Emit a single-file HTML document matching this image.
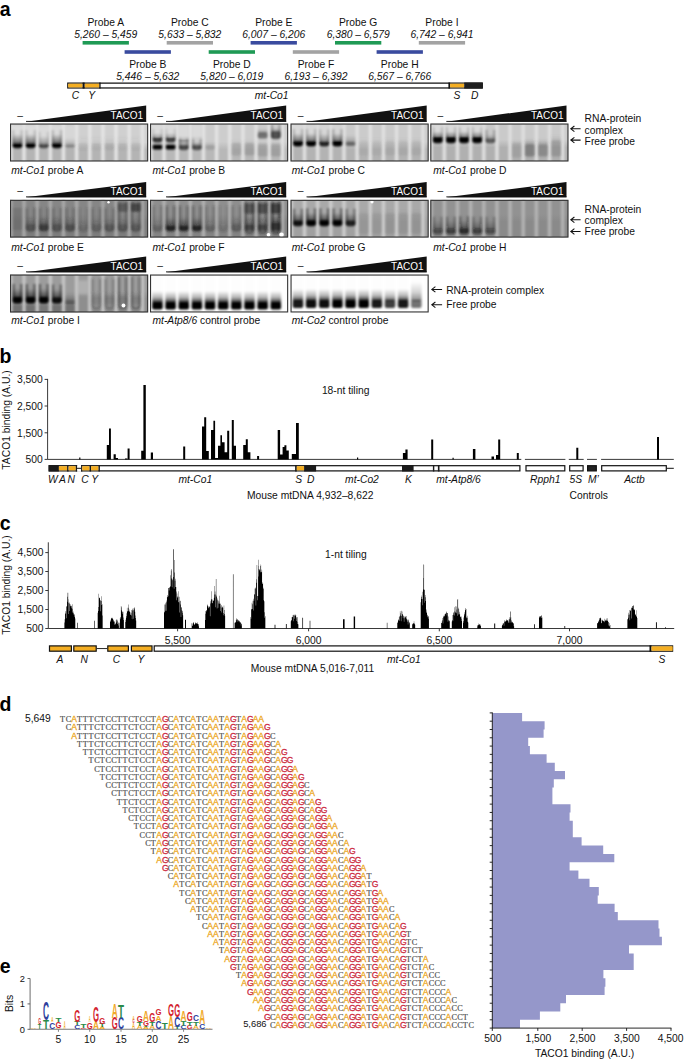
<!DOCTYPE html>
<html><head><meta charset="utf-8"><title>Figure</title>
<style>
html,body{margin:0;padding:0;background:#fff;}
svg{display:block;font-family:"Liberation Sans",sans-serif;}
.sa{fill:#eca824;stroke:#eca824;stroke-width:0.3px;font-family:"Liberation Sans",sans-serif;font-size:8.6px;}
.sg{fill:#cc2b42;stroke:#cc2b42;stroke-width:0.3px;font-family:"Liberation Sans",sans-serif;font-size:8.6px;}
.sc{fill:#525252;stroke:#525252;stroke-width:0.2px;font-family:"Liberation Serif",serif;font-size:8.2px;}
</style></head><body>
<svg width="685" height="1060" viewBox="0 0 685 1060">
<defs>
<filter id="blur1" x="-10%" y="-10%" width="120%" height="120%"><feGaussianBlur stdDeviation="0.9"/></filter>
<filter id="blur2" x="-30%" y="-30%" width="160%" height="160%"><feGaussianBlur stdDeviation="1.1"/></filter>
<filter id="blur05" x="-50%" y="-50%" width="200%" height="200%"><feGaussianBlur stdDeviation="0.5"/></filter>
</defs>
<rect width="685" height="1060" fill="#fff"/>
<text x="-0.3" y="16.4" font-size="19.5" text-anchor="start" fill="#000" font-weight="bold">a</text>
<rect x="82.6" y="41" width="46.3" height="3.6" fill="#1f9a55"/>
<text x="105.75" y="25.6" font-size="10.3" text-anchor="middle" fill="#111">Probe A</text>
<text x="105.75" y="37.7" font-size="10.3" text-anchor="middle" fill="#111" font-style="italic">5,260 – 5,459</text>
<rect x="124.6" y="50.2" width="46.3" height="3.6" fill="#3a4b9f"/>
<text x="147.75" y="67.5" font-size="10.3" text-anchor="middle" fill="#111">Probe B</text>
<text x="147.75" y="80" font-size="10.3" text-anchor="middle" fill="#111" font-style="italic">5,446 – 5,632</text>
<rect x="166.7" y="41" width="46.3" height="3.6" fill="#a3a3a3"/>
<text x="189.85" y="25.6" font-size="10.3" text-anchor="middle" fill="#111">Probe C</text>
<text x="189.85" y="37.7" font-size="10.3" text-anchor="middle" fill="#111" font-style="italic">5,633 – 5,832</text>
<rect x="208.7" y="50.2" width="46.3" height="3.6" fill="#1f9a55"/>
<text x="231.85" y="67.5" font-size="10.3" text-anchor="middle" fill="#111">Probe D</text>
<text x="231.85" y="80" font-size="10.3" text-anchor="middle" fill="#111" font-style="italic">5,820 – 6,019</text>
<rect x="250.6" y="41" width="46.3" height="3.6" fill="#3a4b9f"/>
<text x="273.75" y="25.6" font-size="10.3" text-anchor="middle" fill="#111">Probe E</text>
<text x="273.75" y="37.7" font-size="10.3" text-anchor="middle" fill="#111" font-style="italic">6,007 – 6,206</text>
<rect x="292.8" y="50.2" width="46.3" height="3.6" fill="#a3a3a3"/>
<text x="315.95" y="67.5" font-size="10.3" text-anchor="middle" fill="#111">Probe F</text>
<text x="315.95" y="80" font-size="10.3" text-anchor="middle" fill="#111" font-style="italic">6,193 – 6,392</text>
<rect x="335" y="41" width="46.3" height="3.6" fill="#1f9a55"/>
<text x="358.15" y="25.6" font-size="10.3" text-anchor="middle" fill="#111">Probe G</text>
<text x="358.15" y="37.7" font-size="10.3" text-anchor="middle" fill="#111" font-style="italic">6,380 – 6,579</text>
<rect x="376.6" y="50.2" width="46.3" height="3.6" fill="#3a4b9f"/>
<text x="399.75" y="67.5" font-size="10.3" text-anchor="middle" fill="#111">Probe H</text>
<text x="399.75" y="80" font-size="10.3" text-anchor="middle" fill="#111" font-style="italic">6,567 – 6,766</text>
<rect x="418.8" y="41" width="46.3" height="3.6" fill="#a3a3a3"/>
<text x="441.95" y="25.6" font-size="10.3" text-anchor="middle" fill="#111">Probe I</text>
<text x="441.95" y="37.7" font-size="10.3" text-anchor="middle" fill="#111" font-style="italic">6,742 – 6,941</text>
<rect x="67.8" y="83.12" width="414.5" height="4.85" fill="#fff" stroke="#111" stroke-width="1.25"/>
<rect x="68.2" y="83.7" width="14.4" height="3.7" fill="#f4ae22"/>
<rect x="84.6" y="83.7" width="14.7" height="3.7" fill="#f4ae22"/>
<rect x="99.3" y="82.5" width="1.3" height="6.1" fill="#111"/>
<rect x="82.6" y="82.5" width="2" height="6.1" fill="#111"/>
<rect x="448.4" y="82.5" width="1.7" height="6.1" fill="#111"/>
<rect x="450.1" y="83.7" width="14.1" height="3.7" fill="#f4ae22"/>
<rect x="464.2" y="82.5" width="18.4" height="6.1" fill="#1e1e1e"/>
<text x="75.5" y="98.8" font-size="10.3" text-anchor="middle" fill="#111" font-style="italic">C</text>
<text x="91.8" y="98.8" font-size="10.3" text-anchor="middle" fill="#111" font-style="italic">Y</text>
<text x="254.8" y="98.8" font-size="10.3" text-anchor="start" fill="#111" font-style="italic">mt-Co1</text>
<text x="453.6" y="98.8" font-size="10.3" text-anchor="start" fill="#111" font-style="italic">S</text>
<text x="471" y="98.8" font-size="10.3" text-anchor="start" fill="#111" font-style="italic">D</text>
<linearGradient id="smear_111" x1="0" y1="0" x2="0" y2="1"><stop offset="0" stop-color="#111" stop-opacity="0"/><stop offset="1" stop-color="#111" stop-opacity="0.55"/></linearGradient>
<linearGradient id="smearS_111" x1="0" y1="0" x2="0" y2="1"><stop offset="0" stop-color="#111" stop-opacity="0"/><stop offset="0.55" stop-color="#111" stop-opacity="0.3"/><stop offset="1" stop-color="#111" stop-opacity="0.85"/></linearGradient>
<linearGradient id="smear_555" x1="0" y1="0" x2="0" y2="1"><stop offset="0" stop-color="#555" stop-opacity="0"/><stop offset="1" stop-color="#555" stop-opacity="0.55"/></linearGradient>
<linearGradient id="smearS_555" x1="0" y1="0" x2="0" y2="1"><stop offset="0" stop-color="#555" stop-opacity="0"/><stop offset="0.55" stop-color="#555" stop-opacity="0.3"/><stop offset="1" stop-color="#555" stop-opacity="0.85"/></linearGradient>
<linearGradient id="smear_444" x1="0" y1="0" x2="0" y2="1"><stop offset="0" stop-color="#444" stop-opacity="0"/><stop offset="1" stop-color="#444" stop-opacity="0.55"/></linearGradient>
<linearGradient id="smearS_444" x1="0" y1="0" x2="0" y2="1"><stop offset="0" stop-color="#444" stop-opacity="0"/><stop offset="0.55" stop-color="#444" stop-opacity="0.3"/><stop offset="1" stop-color="#444" stop-opacity="0.85"/></linearGradient>
<linearGradient id="smear_000" x1="0" y1="0" x2="0" y2="1"><stop offset="0" stop-color="#000" stop-opacity="0"/><stop offset="1" stop-color="#000" stop-opacity="0.55"/></linearGradient>
<linearGradient id="smearS_000" x1="0" y1="0" x2="0" y2="1"><stop offset="0" stop-color="#000" stop-opacity="0"/><stop offset="0.55" stop-color="#000" stop-opacity="0.3"/><stop offset="1" stop-color="#000" stop-opacity="0.85"/></linearGradient>
<linearGradient id="smear_333" x1="0" y1="0" x2="0" y2="1"><stop offset="0" stop-color="#333" stop-opacity="0"/><stop offset="1" stop-color="#333" stop-opacity="0.55"/></linearGradient>
<linearGradient id="smearS_333" x1="0" y1="0" x2="0" y2="1"><stop offset="0" stop-color="#333" stop-opacity="0"/><stop offset="0.55" stop-color="#333" stop-opacity="0.3"/><stop offset="1" stop-color="#333" stop-opacity="0.85"/></linearGradient>
<linearGradient id="smear_666" x1="0" y1="0" x2="0" y2="1"><stop offset="0" stop-color="#666" stop-opacity="0"/><stop offset="1" stop-color="#666" stop-opacity="0.55"/></linearGradient>
<linearGradient id="smearS_666" x1="0" y1="0" x2="0" y2="1"><stop offset="0" stop-color="#666" stop-opacity="0"/><stop offset="0.55" stop-color="#666" stop-opacity="0.3"/><stop offset="1" stop-color="#666" stop-opacity="0.85"/></linearGradient>
<linearGradient id="smear_222" x1="0" y1="0" x2="0" y2="1"><stop offset="0" stop-color="#222" stop-opacity="0"/><stop offset="1" stop-color="#222" stop-opacity="0.55"/></linearGradient>
<linearGradient id="smearS_222" x1="0" y1="0" x2="0" y2="1"><stop offset="0" stop-color="#222" stop-opacity="0"/><stop offset="0.55" stop-color="#222" stop-opacity="0.3"/><stop offset="1" stop-color="#222" stop-opacity="0.85"/></linearGradient>
<linearGradient id="smear_777" x1="0" y1="0" x2="0" y2="1"><stop offset="0" stop-color="#777" stop-opacity="0"/><stop offset="1" stop-color="#777" stop-opacity="0.55"/></linearGradient>
<linearGradient id="smearS_777" x1="0" y1="0" x2="0" y2="1"><stop offset="0" stop-color="#777" stop-opacity="0"/><stop offset="0.55" stop-color="#777" stop-opacity="0.3"/><stop offset="1" stop-color="#777" stop-opacity="0.85"/></linearGradient>
<path d="M26 121.8 L146.2 121.8 L146.2 105.4 Z" fill="#111"/>
<rect x="26" y="120.9" width="120.2" height="0.9" fill="#111"/>
<text x="17.3" y="118.6" font-size="10.3" text-anchor="start" fill="#222">–</text>
<text x="143.2" y="119.3" font-size="10" text-anchor="end" fill="#fff">TACO1</text>
<g>
<clipPath id="gc0"><rect x="10" y="123.5" width="138.2" height="38"/></clipPath>
<linearGradient id="gbg0" x1="0" y1="0" x2="0" y2="1"><stop offset="0" stop-color="#d0d0d0"/><stop offset="0.5" stop-color="#d0d0d0"/><stop offset="0.7" stop-color="#b4b4b4"/><stop offset="1" stop-color="#b4b4b4"/></linearGradient>
<g clip-path="url(#gc0)">
<rect x="10" y="123.5" width="138.2" height="38" fill="url(#gbg0)"/>
<g filter="url(#blur1)">
<rect x="9.12" y="121.5" width="3.5" height="42" fill="#e4e4e4" opacity="1"/>
<rect x="22.27" y="121.5" width="3.5" height="42" fill="#e4e4e4" opacity="1"/>
<rect x="35.42" y="121.5" width="3.5" height="42" fill="#e4e4e4" opacity="1"/>
<rect x="48.58" y="121.5" width="3.5" height="42" fill="#e4e4e4" opacity="1"/>
<rect x="61.72" y="121.5" width="3.5" height="42" fill="#e4e4e4" opacity="1"/>
<rect x="74.88" y="121.5" width="3.5" height="42" fill="#e4e4e4" opacity="1"/>
<rect x="88.03" y="121.5" width="3.5" height="42" fill="#e4e4e4" opacity="1"/>
<rect x="101.18" y="121.5" width="3.5" height="42" fill="#e4e4e4" opacity="1"/>
<rect x="114.33" y="121.5" width="3.5" height="42" fill="#e4e4e4" opacity="1"/>
<rect x="127.47" y="121.5" width="3.5" height="42" fill="#e4e4e4" opacity="1"/>
<rect x="140.62" y="121.5" width="3.5" height="42" fill="#e4e4e4" opacity="1"/>
</g>
<g filter="url(#blur2)">
<path d="M13.65 129.9 V144.7 Q13.65 147.7 16.65 147.7 H18.25 Q21.25 147.7 21.25 144.7 V129.9" fill="none" stroke="#000" stroke-width="2" opacity="0.45"/>
<rect x="12.65" y="125.5" width="9.6" height="18" fill="#e2e2e2" opacity="0.7"/>
<rect x="12.55" y="133.9" width="9.8" height="10" fill="url(#smear_000)" opacity="1"/>
<rect x="12.55" y="142.9" width="9.8" height="4.8" rx="2" fill="#000" opacity="1"/>
<path d="M26.8 129.9 V144.7 Q26.8 147.7 29.8 147.7 H31.4 Q34.4 147.7 34.4 144.7 V129.9" fill="none" stroke="#000" stroke-width="2" opacity="0.45"/>
<rect x="25.8" y="125.5" width="9.6" height="18" fill="#e2e2e2" opacity="0.7"/>
<rect x="25.7" y="133.9" width="9.8" height="10" fill="url(#smear_000)" opacity="1"/>
<rect x="25.7" y="142.9" width="9.8" height="4.8" rx="2" fill="#000" opacity="1"/>
<path d="M39.95 131.7 V144.7 Q39.95 147.7 42.95 147.7 H44.55 Q47.55 147.7 47.55 144.7 V131.7" fill="none" stroke="#000" stroke-width="2" opacity="0.27"/>
<rect x="38.95" y="125.5" width="9.6" height="18" fill="#e2e2e2" opacity="0.6"/>
<rect x="38.85" y="135.7" width="9.8" height="9" fill="url(#smear_000)" opacity="0.6"/>
<rect x="38.85" y="143.7" width="9.8" height="4" rx="2" fill="#000" opacity="0.6"/>
<path d="M53.1 129.9 V144.7 Q53.1 147.7 56.1 147.7 H57.7 Q60.7 147.7 60.7 144.7 V129.9" fill="none" stroke="#000" stroke-width="2" opacity="0.45"/>
<rect x="52.1" y="125.5" width="9.6" height="18" fill="#e2e2e2" opacity="0.6"/>
<rect x="52" y="133.9" width="9.8" height="10" fill="url(#smear_000)" opacity="1"/>
<rect x="52" y="142.9" width="9.8" height="4.8" rx="2" fill="#000" opacity="1"/>
<rect x="65.25" y="125.5" width="9.6" height="18" fill="#e2e2e2" opacity="0.4"/>
<rect x="65.15" y="137.7" width="9.8" height="7" fill="url(#smear_000)" opacity="0.3"/>
<rect x="65.15" y="143.7" width="9.8" height="4" rx="2" fill="#000" opacity="0.3"/>
<rect x="78.3" y="135.5" width="9.8" height="9" fill="url(#smear_555)" opacity="0.12"/>
<rect x="78.3" y="143.5" width="9.8" height="6" rx="2" fill="#555" opacity="0.12"/>
<rect x="91.45" y="135.5" width="9.8" height="9" fill="url(#smear_555)" opacity="0.15"/>
<rect x="91.45" y="143.5" width="9.8" height="6" rx="2" fill="#555" opacity="0.15"/>
<rect x="104.6" y="135.5" width="9.8" height="9" fill="url(#smear_555)" opacity="0.2"/>
<rect x="104.6" y="143.5" width="9.8" height="6" rx="2" fill="#555" opacity="0.2"/>
<rect x="117.75" y="135.5" width="9.8" height="9" fill="url(#smear_555)" opacity="0.15"/>
<rect x="117.75" y="143.5" width="9.8" height="6" rx="2" fill="#555" opacity="0.15"/>
<rect x="130.9" y="135.5" width="9.8" height="9" fill="url(#smear_555)" opacity="0.12"/>
<rect x="130.9" y="143.5" width="9.8" height="6" rx="2" fill="#555" opacity="0.12"/>
</g>
</g>
<rect x="10.55" y="124.05" width="137.1" height="36.9" fill="none" stroke="#333" stroke-width="1.1"/>
</g>
<text x="11.2" y="174.4" font-size="10.3" fill="#111"><tspan font-style="italic">mt-Co1</tspan> probe A</text>
<path d="M166 121.8 L286.2 121.8 L286.2 105.4 Z" fill="#111"/>
<rect x="166" y="120.9" width="120.2" height="0.9" fill="#111"/>
<text x="157.3" y="118.6" font-size="10.3" text-anchor="start" fill="#222">–</text>
<text x="283.2" y="119.3" font-size="10" text-anchor="end" fill="#fff">TACO1</text>
<g>
<clipPath id="gc1"><rect x="150" y="123.5" width="138.2" height="38"/></clipPath>
<linearGradient id="gbg1" x1="0" y1="0" x2="0" y2="1"><stop offset="0" stop-color="#cdcdcd"/><stop offset="0.48" stop-color="#cdcdcd"/><stop offset="0.68" stop-color="#b8b8b8"/><stop offset="1" stop-color="#b8b8b8"/></linearGradient>
<g clip-path="url(#gc1)">
<rect x="150" y="123.5" width="138.2" height="38" fill="url(#gbg1)"/>
<g filter="url(#blur1)">
<rect x="149.12" y="121.5" width="3.5" height="42" fill="#e2e2e2" opacity="1"/>
<rect x="162.27" y="121.5" width="3.5" height="42" fill="#e2e2e2" opacity="1"/>
<rect x="175.42" y="121.5" width="3.5" height="42" fill="#e2e2e2" opacity="1"/>
<rect x="188.57" y="121.5" width="3.5" height="42" fill="#e2e2e2" opacity="1"/>
<rect x="201.72" y="121.5" width="3.5" height="42" fill="#e2e2e2" opacity="1"/>
<rect x="214.88" y="121.5" width="3.5" height="42" fill="#e2e2e2" opacity="1"/>
<rect x="228.02" y="121.5" width="3.5" height="42" fill="#e2e2e2" opacity="1"/>
<rect x="241.18" y="121.5" width="3.5" height="42" fill="#e2e2e2" opacity="1"/>
<rect x="254.32" y="121.5" width="3.5" height="42" fill="#e2e2e2" opacity="1"/>
<rect x="267.48" y="121.5" width="3.5" height="42" fill="#e2e2e2" opacity="1"/>
<rect x="280.62" y="121.5" width="3.5" height="42" fill="#e2e2e2" opacity="1"/>
</g>
<g filter="url(#blur2)">
<path d="M153.65 129 V139 Q153.65 142 156.65 142 H158.25 Q161.25 142 161.25 139 V129" fill="none" stroke="#000" stroke-width="2" opacity="0.32"/>
<rect x="152.65" y="124.5" width="9.6" height="11" fill="#e2e2e2" opacity="0.7"/>
<rect x="152.55" y="133" width="9.8" height="6" fill="url(#smear_000)" opacity="0.7"/>
<rect x="152.55" y="138" width="9.8" height="4" rx="2" fill="#000" opacity="0.7"/>
<rect x="152.55" y="143" width="9.8" height="3" fill="url(#smear_000)" opacity="1"/>
<rect x="152.55" y="145" width="9.8" height="4.5" rx="2" fill="#000" opacity="1"/>
<path d="M166.8 129 V139 Q166.8 142 169.8 142 H171.4 Q174.4 142 174.4 139 V129" fill="none" stroke="#000" stroke-width="2" opacity="0.29"/>
<rect x="165.8" y="124.5" width="9.6" height="11" fill="#e2e2e2" opacity="0.7"/>
<rect x="165.7" y="133" width="9.8" height="6" fill="url(#smear_000)" opacity="0.65"/>
<rect x="165.7" y="138" width="9.8" height="4" rx="2" fill="#000" opacity="0.65"/>
<rect x="165.7" y="143" width="9.8" height="3" fill="url(#smear_000)" opacity="1"/>
<rect x="165.7" y="145" width="9.8" height="4.5" rx="2" fill="#000" opacity="1"/>
<path d="M179.95 137.5 V146.5 Q179.95 149.5 182.95 149.5 H184.55 Q187.55 149.5 187.55 146.5 V137.5" fill="none" stroke="#000" stroke-width="2" opacity="0.27"/>
<rect x="178.95" y="124.5" width="9.6" height="13" fill="#e2e2e2" opacity="0.6"/>
<rect x="178.85" y="136.5" width="9.8" height="4" fill="url(#smear_000)" opacity="0.25"/>
<rect x="178.85" y="139.5" width="9.8" height="3" rx="2" fill="#000" opacity="0.25"/>
<rect x="178.85" y="141.5" width="9.8" height="5" fill="url(#smear_000)" opacity="0.6"/>
<rect x="178.85" y="145.5" width="9.8" height="4" rx="2" fill="#000" opacity="0.6"/>
<path d="M193.1 137.5 V146.5 Q193.1 149.5 196.1 149.5 H197.7 Q200.7 149.5 200.7 146.5 V137.5" fill="none" stroke="#000" stroke-width="2" opacity="0.25"/>
<rect x="192.1" y="124.5" width="9.6" height="13" fill="#e2e2e2" opacity="0.6"/>
<rect x="192" y="141.5" width="9.8" height="5" fill="url(#smear_000)" opacity="0.55"/>
<rect x="192" y="145.5" width="9.8" height="4" rx="2" fill="#000" opacity="0.55"/>
<rect x="205.15" y="140.5" width="9.8" height="6" fill="url(#smear_000)" opacity="0.15"/>
<rect x="205.15" y="145.5" width="9.8" height="4" rx="2" fill="#000" opacity="0.15"/>
<rect x="231.45" y="139.5" width="9.8" height="5" fill="url(#smear_666)" opacity="0.25"/>
<rect x="231.45" y="143.5" width="9.8" height="12" rx="2" fill="#666" opacity="0.25"/>
<rect x="244.6" y="139.5" width="9.8" height="5" fill="url(#smear_666)" opacity="0.3"/>
<rect x="244.6" y="143.5" width="9.8" height="12" rx="2" fill="#666" opacity="0.3"/>
<rect x="257.75" y="128.5" width="9.8" height="5" fill="url(#smear_000)" opacity="0.45"/>
<rect x="257.75" y="132.5" width="9.8" height="6" rx="2" fill="#000" opacity="0.45"/>
<rect x="257.75" y="140.5" width="9.8" height="5" fill="url(#smear_666)" opacity="0.3"/>
<rect x="257.75" y="144.5" width="9.8" height="12" rx="2" fill="#666" opacity="0.3"/>
<path d="M272 124.5 V135.5 Q272 138.5 275 138.5 H276.6 Q279.6 138.5 279.6 135.5 V124.5" fill="none" stroke="#000" stroke-width="2" opacity="0.27"/>
<rect x="270.9" y="127.5" width="9.8" height="5" fill="url(#smear_000)" opacity="0.6"/>
<rect x="270.9" y="131.5" width="9.8" height="7" rx="2" fill="#000" opacity="0.6"/>
<rect x="270.9" y="140.5" width="9.8" height="5" fill="url(#smear_666)" opacity="0.3"/>
<rect x="270.9" y="144.5" width="9.8" height="12" rx="2" fill="#666" opacity="0.3"/>
</g>
</g>
<rect x="150.55" y="124.05" width="137.1" height="36.9" fill="none" stroke="#333" stroke-width="1.1"/>
</g>
<text x="152.5" y="174.4" font-size="10.3" fill="#111"><tspan font-style="italic">mt-Co1</tspan> probe B</text>
<path d="M306.5 121.8 L426.7 121.8 L426.7 105.4 Z" fill="#111"/>
<rect x="306.5" y="120.9" width="120.2" height="0.9" fill="#111"/>
<text x="297.8" y="118.6" font-size="10.3" text-anchor="start" fill="#222">–</text>
<text x="423.7" y="119.3" font-size="10" text-anchor="end" fill="#fff">TACO1</text>
<g>
<clipPath id="gc2"><rect x="290.5" y="123.5" width="138.2" height="38"/></clipPath>
<linearGradient id="gbg2" x1="0" y1="0" x2="0" y2="1"><stop offset="0" stop-color="#cbcbcb"/><stop offset="0.48" stop-color="#cbcbcb"/><stop offset="0.68" stop-color="#b3b3b3"/><stop offset="1" stop-color="#b3b3b3"/></linearGradient>
<g clip-path="url(#gc2)">
<rect x="290.5" y="123.5" width="138.2" height="38" fill="url(#gbg2)"/>
<g filter="url(#blur1)">
<rect x="289.62" y="121.5" width="3.5" height="42" fill="#e0e0e0" opacity="1"/>
<rect x="302.77" y="121.5" width="3.5" height="42" fill="#e0e0e0" opacity="1"/>
<rect x="315.93" y="121.5" width="3.5" height="42" fill="#e0e0e0" opacity="1"/>
<rect x="329.07" y="121.5" width="3.5" height="42" fill="#e0e0e0" opacity="1"/>
<rect x="342.22" y="121.5" width="3.5" height="42" fill="#e0e0e0" opacity="1"/>
<rect x="355.38" y="121.5" width="3.5" height="42" fill="#e0e0e0" opacity="1"/>
<rect x="368.52" y="121.5" width="3.5" height="42" fill="#e0e0e0" opacity="1"/>
<rect x="381.68" y="121.5" width="3.5" height="42" fill="#e0e0e0" opacity="1"/>
<rect x="394.82" y="121.5" width="3.5" height="42" fill="#e0e0e0" opacity="1"/>
<rect x="407.98" y="121.5" width="3.5" height="42" fill="#e0e0e0" opacity="1"/>
<rect x="421.12" y="121.5" width="3.5" height="42" fill="#e0e0e0" opacity="1"/>
</g>
<g filter="url(#blur2)">
<path d="M294.15 129.1 V143.1 Q294.15 146.1 297.15 146.1 H298.75 Q301.75 146.1 301.75 143.1 V129.1" fill="none" stroke="#000" stroke-width="2" opacity="0.45"/>
<rect x="293.15" y="124.5" width="9.6" height="16" fill="#e2e2e2" opacity="0.6"/>
<rect x="293.05" y="133.1" width="9.8" height="9" fill="url(#smear_000)" opacity="1"/>
<rect x="293.05" y="141.1" width="9.8" height="5" rx="2" fill="#000" opacity="1"/>
<path d="M307.3 129.1 V143.1 Q307.3 146.1 310.3 146.1 H311.9 Q314.9 146.1 314.9 143.1 V129.1" fill="none" stroke="#000" stroke-width="2" opacity="0.45"/>
<rect x="306.3" y="124.5" width="9.6" height="16" fill="#e2e2e2" opacity="0.6"/>
<rect x="306.2" y="133.1" width="9.8" height="9" fill="url(#smear_000)" opacity="1"/>
<rect x="306.2" y="141.1" width="9.8" height="5" rx="2" fill="#000" opacity="1"/>
<path d="M320.45 129.6 V143.1 Q320.45 146.1 323.45 146.1 H325.05 Q328.05 146.1 328.05 143.1 V129.6" fill="none" stroke="#000" stroke-width="2" opacity="0.36"/>
<rect x="319.45" y="124.5" width="9.6" height="16" fill="#e2e2e2" opacity="0.5"/>
<rect x="319.35" y="133.6" width="9.8" height="9" fill="url(#smear_000)" opacity="0.8"/>
<rect x="319.35" y="141.6" width="9.8" height="4.5" rx="2" fill="#000" opacity="0.8"/>
<path d="M333.6 129.1 V143.1 Q333.6 146.1 336.6 146.1 H338.2 Q341.2 146.1 341.2 143.1 V129.1" fill="none" stroke="#000" stroke-width="2" opacity="0.45"/>
<rect x="332.6" y="124.5" width="9.6" height="16" fill="#e2e2e2" opacity="0.5"/>
<rect x="332.5" y="133.1" width="9.8" height="9" fill="url(#smear_000)" opacity="1"/>
<rect x="332.5" y="141.1" width="9.8" height="5" rx="2" fill="#000" opacity="1"/>
<rect x="345.65" y="135.1" width="9.8" height="8" fill="url(#smear_000)" opacity="0.45"/>
<rect x="345.65" y="142.1" width="9.8" height="4" rx="2" fill="#000" opacity="0.45"/>
<rect x="358.8" y="137.5" width="9.8" height="5" fill="url(#smear_777)" opacity="0.15"/>
<rect x="358.8" y="141.5" width="9.8" height="14" rx="2" fill="#777" opacity="0.15"/>
<rect x="371.95" y="137.5" width="9.8" height="5" fill="url(#smear_777)" opacity="0.15"/>
<rect x="371.95" y="141.5" width="9.8" height="14" rx="2" fill="#777" opacity="0.15"/>
<rect x="385.1" y="137.5" width="9.8" height="5" fill="url(#smear_777)" opacity="0.2"/>
<rect x="385.1" y="141.5" width="9.8" height="14" rx="2" fill="#777" opacity="0.2"/>
<rect x="398.25" y="137.5" width="9.8" height="5" fill="url(#smear_777)" opacity="0.2"/>
<rect x="398.25" y="141.5" width="9.8" height="14" rx="2" fill="#777" opacity="0.2"/>
<rect x="411.4" y="137.5" width="9.8" height="5" fill="url(#smear_777)" opacity="0.2"/>
<rect x="411.4" y="141.5" width="9.8" height="14" rx="2" fill="#777" opacity="0.2"/>
</g>
</g>
<rect x="291.05" y="124.05" width="137.1" height="36.9" fill="none" stroke="#333" stroke-width="1.1"/>
</g>
<text x="291.8" y="174.4" font-size="10.3" fill="#111"><tspan font-style="italic">mt-Co1</tspan> probe C</text>
<path d="M446.3 121.8 L566.5 121.8 L566.5 105.4 Z" fill="#111"/>
<rect x="446.3" y="120.9" width="120.2" height="0.9" fill="#111"/>
<text x="437.6" y="118.6" font-size="10.3" text-anchor="start" fill="#222">–</text>
<text x="563.5" y="119.3" font-size="10" text-anchor="end" fill="#fff">TACO1</text>
<g>
<clipPath id="gc3"><rect x="430.3" y="123.5" width="138.2" height="38"/></clipPath>
<linearGradient id="gbg3" x1="0" y1="0" x2="0" y2="1"><stop offset="0" stop-color="#cacaca"/><stop offset="0.43" stop-color="#cacaca"/><stop offset="0.63" stop-color="#b0b0b0"/><stop offset="1" stop-color="#b0b0b0"/></linearGradient>
<g clip-path="url(#gc3)">
<rect x="430.3" y="123.5" width="138.2" height="38" fill="url(#gbg3)"/>
<g filter="url(#blur1)">
<rect x="429.43" y="121.5" width="3.5" height="42" fill="#dedede" opacity="1"/>
<rect x="442.57" y="121.5" width="3.5" height="42" fill="#dedede" opacity="1"/>
<rect x="455.73" y="121.5" width="3.5" height="42" fill="#dedede" opacity="1"/>
<rect x="468.88" y="121.5" width="3.5" height="42" fill="#dedede" opacity="1"/>
<rect x="482.02" y="121.5" width="3.5" height="42" fill="#dedede" opacity="1"/>
<rect x="495.18" y="121.5" width="3.5" height="42" fill="#dedede" opacity="1"/>
<rect x="508.32" y="121.5" width="3.5" height="42" fill="#dedede" opacity="1"/>
<rect x="521.48" y="121.5" width="3.5" height="42" fill="#dedede" opacity="1"/>
<rect x="534.62" y="121.5" width="3.5" height="42" fill="#dedede" opacity="1"/>
<rect x="547.77" y="121.5" width="3.5" height="42" fill="#dedede" opacity="1"/>
<rect x="560.92" y="121.5" width="3.5" height="42" fill="#dedede" opacity="1"/>
</g>
<g filter="url(#blur2)">
<path d="M433.95 127.3 V139.8 Q433.95 142.8 436.95 142.8 H438.55 Q441.55 142.8 441.55 139.8 V127.3" fill="none" stroke="#000" stroke-width="2" opacity="0.45"/>
<rect x="432.95" y="124.5" width="9.6" height="11" fill="#e2e2e2" opacity="0.7"/>
<rect x="432.85" y="131.3" width="9.8" height="7" fill="url(#smear_000)" opacity="1"/>
<rect x="432.85" y="137.3" width="9.8" height="5.5" rx="2" fill="#000" opacity="1"/>
<path d="M447.1 127.3 V139.8 Q447.1 142.8 450.1 142.8 H451.7 Q454.7 142.8 454.7 139.8 V127.3" fill="none" stroke="#000" stroke-width="2" opacity="0.45"/>
<rect x="446.1" y="124.5" width="9.6" height="11" fill="#e2e2e2" opacity="0.7"/>
<rect x="446" y="131.3" width="9.8" height="7" fill="url(#smear_000)" opacity="1"/>
<rect x="446" y="137.3" width="9.8" height="5.5" rx="2" fill="#000" opacity="1"/>
<path d="M460.25 127.3 V139.8 Q460.25 142.8 463.25 142.8 H464.85 Q467.85 142.8 467.85 139.8 V127.3" fill="none" stroke="#000" stroke-width="2" opacity="0.45"/>
<rect x="459.25" y="124.5" width="9.6" height="11" fill="#e2e2e2" opacity="0.7"/>
<rect x="459.15" y="131.3" width="9.8" height="7" fill="url(#smear_000)" opacity="1"/>
<rect x="459.15" y="137.3" width="9.8" height="5.5" rx="2" fill="#000" opacity="1"/>
<path d="M473.4 127.3 V139.8 Q473.4 142.8 476.4 142.8 H478 Q481 142.8 481 139.8 V127.3" fill="none" stroke="#000" stroke-width="2" opacity="0.45"/>
<rect x="472.4" y="124.5" width="9.6" height="11" fill="#e2e2e2" opacity="0.7"/>
<rect x="472.3" y="131.3" width="9.8" height="7" fill="url(#smear_000)" opacity="1"/>
<rect x="472.3" y="137.3" width="9.8" height="5.5" rx="2" fill="#000" opacity="1"/>
<path d="M486.55 129.8 V139.8 Q486.55 142.8 489.55 142.8 H491.15 Q494.15 142.8 494.15 139.8 V129.8" fill="none" stroke="#000" stroke-width="2" opacity="0.23"/>
<rect x="485.45" y="133.8" width="9.8" height="6" fill="url(#smear_000)" opacity="0.5"/>
<rect x="485.45" y="138.8" width="9.8" height="4" rx="2" fill="#000" opacity="0.5"/>
<rect x="511.75" y="139.5" width="9.8" height="5" fill="url(#smear_666)" opacity="0.2"/>
<rect x="511.75" y="143.5" width="9.8" height="14" rx="2" fill="#666" opacity="0.2"/>
<rect x="524.9" y="138.5" width="9.8" height="7" fill="url(#smear_444)" opacity="0.45"/>
<rect x="524.9" y="144.5" width="9.8" height="12" rx="2" fill="#444" opacity="0.45"/>
<rect x="538.05" y="138.5" width="9.8" height="7" fill="url(#smear_444)" opacity="0.35"/>
<rect x="538.05" y="144.5" width="9.8" height="12" rx="2" fill="#444" opacity="0.35"/>
<rect x="551.2" y="134.5" width="9.8" height="7" fill="url(#smear_555)" opacity="0.3"/>
<rect x="551.2" y="140.5" width="9.8" height="16" rx="2" fill="#555" opacity="0.3"/>
</g>
</g>
<rect x="430.85" y="124.05" width="137.1" height="36.9" fill="none" stroke="#333" stroke-width="1.1"/>
</g>
<text x="433.3" y="174.4" font-size="10.3" fill="#111"><tspan font-style="italic">mt-Co1</tspan> probe D</text>
<path d="M26 197.3 L146.2 197.3 L146.2 182 Z" fill="#111"/>
<rect x="26" y="196.4" width="120.2" height="0.9" fill="#111"/>
<text x="17.3" y="194.1" font-size="10.3" text-anchor="start" fill="#222">–</text>
<text x="143.2" y="194.8" font-size="10" text-anchor="end" fill="#fff">TACO1</text>
<g>
<clipPath id="gc4"><rect x="10" y="199.8" width="138.2" height="37.8"/></clipPath>
<linearGradient id="gbg4" x1="0" y1="0" x2="0" y2="1"><stop offset="0" stop-color="#868686"/><stop offset="0.38" stop-color="#868686"/><stop offset="0.58" stop-color="#7c7c7c"/><stop offset="1" stop-color="#7c7c7c"/></linearGradient>
<g clip-path="url(#gc4)">
<rect x="10" y="199.8" width="138.2" height="37.8" fill="url(#gbg4)"/>
<g filter="url(#blur1)">
<rect x="9.12" y="197.8" width="3.5" height="41.8" fill="#a8a8a8" opacity="1"/>
<rect x="22.27" y="197.8" width="3.5" height="41.8" fill="#a8a8a8" opacity="1"/>
<rect x="35.42" y="197.8" width="3.5" height="41.8" fill="#a8a8a8" opacity="1"/>
<rect x="48.58" y="197.8" width="3.5" height="41.8" fill="#a8a8a8" opacity="1"/>
<rect x="61.72" y="197.8" width="3.5" height="41.8" fill="#a8a8a8" opacity="1"/>
<rect x="74.88" y="197.8" width="3.5" height="41.8" fill="#a8a8a8" opacity="1"/>
<rect x="88.03" y="197.8" width="3.5" height="41.8" fill="#a8a8a8" opacity="1"/>
<rect x="101.18" y="197.8" width="3.5" height="41.8" fill="#a8a8a8" opacity="1"/>
<rect x="114.33" y="197.8" width="3.5" height="41.8" fill="#a8a8a8" opacity="1"/>
<rect x="127.47" y="197.8" width="3.5" height="41.8" fill="#a8a8a8" opacity="1"/>
<rect x="140.62" y="197.8" width="3.5" height="41.8" fill="#a8a8a8" opacity="1"/>
</g>
<g filter="url(#blur2)">
<rect x="12.65" y="207.8" width="9.6" height="22" fill="#444" opacity="0.25"/>
<path d="M26.9 207.8 V227.8 Q26.9 230.8 29.9 230.8 H31.3 Q34.3 230.8 34.3 227.8 V207.8" fill="none" stroke="#333" stroke-width="2.2" opacity="0.35"/>
<rect x="25.7" y="216.8" width="9.8" height="9" fill="url(#smear_333)" opacity="0.55"/>
<rect x="25.7" y="224.8" width="9.8" height="6" rx="2" fill="#333" opacity="0.55"/>
<path d="M40.05 207.8 V227.8 Q40.05 230.8 43.05 230.8 H44.45 Q47.45 230.8 47.45 227.8 V207.8" fill="none" stroke="#333" stroke-width="2.2" opacity="0.35"/>
<rect x="38.85" y="216.8" width="9.8" height="9" fill="url(#smear_222)" opacity="0.7"/>
<rect x="38.85" y="224.8" width="9.8" height="6" rx="2" fill="#222" opacity="0.7"/>
<path d="M53.2 207.8 V227.8 Q53.2 230.8 56.2 230.8 H57.6 Q60.6 230.8 60.6 227.8 V207.8" fill="none" stroke="#333" stroke-width="2.2" opacity="0.35"/>
<rect x="52" y="216.8" width="9.8" height="9" fill="url(#smear_333)" opacity="0.55"/>
<rect x="52" y="224.8" width="9.8" height="6" rx="2" fill="#333" opacity="0.55"/>
<path d="M66.35 207.8 V227.8 Q66.35 230.8 69.35 230.8 H70.75 Q73.75 230.8 73.75 227.8 V207.8" fill="none" stroke="#333" stroke-width="2.2" opacity="0.35"/>
<rect x="65.15" y="216.8" width="9.8" height="9" fill="url(#smear_333)" opacity="0.6"/>
<rect x="65.15" y="224.8" width="9.8" height="6" rx="2" fill="#333" opacity="0.6"/>
<path d="M79.5 207.8 V227.8 Q79.5 230.8 82.5 230.8 H83.9 Q86.9 230.8 86.9 227.8 V207.8" fill="none" stroke="#333" stroke-width="2.2" opacity="0.2"/>
<rect x="78.3" y="219.8" width="9.8" height="7" fill="url(#smear_333)" opacity="0.2"/>
<rect x="78.3" y="225.8" width="9.8" height="5" rx="2" fill="#333" opacity="0.2"/>
<path d="M92.65 207.8 V227.8 Q92.65 230.8 95.65 230.8 H97.05 Q100.05 230.8 100.05 227.8 V207.8" fill="none" stroke="#333" stroke-width="2.2" opacity="0.3"/>
<rect x="91.45" y="218.8" width="9.8" height="7" fill="url(#smear_333)" opacity="0.3"/>
<rect x="91.45" y="224.8" width="9.8" height="6" rx="2" fill="#333" opacity="0.3"/>
<path d="M105.8 207.8 V227.8 Q105.8 230.8 108.8 230.8 H110.2 Q113.2 230.8 113.2 227.8 V207.8" fill="none" stroke="#333" stroke-width="2.2" opacity="0.35"/>
<rect x="104.6" y="218.8" width="9.8" height="7" fill="url(#smear_333)" opacity="0.45"/>
<rect x="104.6" y="224.8" width="9.8" height="6" rx="2" fill="#333" opacity="0.45"/>
<path d="M118.95 201.8 V227.8 Q118.95 230.8 121.95 230.8 H123.35 Q126.35 230.8 126.35 227.8 V201.8" fill="none" stroke="#333" stroke-width="2.2" opacity="0.45"/>
<rect x="117.75" y="200.8" width="9.8" height="4" fill="url(#smear_333)" opacity="0.5"/>
<rect x="117.75" y="203.8" width="9.8" height="8" rx="2" fill="#333" opacity="0.5"/>
<rect x="117.75" y="218.8" width="9.8" height="7" fill="url(#smear_333)" opacity="0.45"/>
<rect x="117.75" y="224.8" width="9.8" height="6" rx="2" fill="#333" opacity="0.45"/>
<path d="M132.1 201.8 V227.8 Q132.1 230.8 135.1 230.8 H136.5 Q139.5 230.8 139.5 227.8 V201.8" fill="none" stroke="#333" stroke-width="2.2" opacity="0.45"/>
<rect x="130.9" y="200.8" width="9.8" height="4" fill="url(#smear_222)" opacity="0.6"/>
<rect x="130.9" y="203.8" width="9.8" height="8" rx="2" fill="#222" opacity="0.6"/>
<rect x="130.9" y="218.8" width="9.8" height="7" fill="url(#smear_333)" opacity="0.4"/>
<rect x="130.9" y="224.8" width="9.8" height="6" rx="2" fill="#333" opacity="0.4"/>
</g>
<circle cx="108.5" cy="202.3" r="1.2" fill="#fff" filter="url(#blur05)"/>
</g>
<rect x="10.55" y="200.35" width="137.1" height="36.7" fill="none" stroke="#333" stroke-width="1.1"/>
</g>
<text x="11.2" y="250.7" font-size="10.3" fill="#111"><tspan font-style="italic">mt-Co1</tspan> probe E</text>
<path d="M166 197.3 L286.2 197.3 L286.2 182 Z" fill="#111"/>
<rect x="166" y="196.4" width="120.2" height="0.9" fill="#111"/>
<text x="157.3" y="194.1" font-size="10.3" text-anchor="start" fill="#222">–</text>
<text x="283.2" y="194.8" font-size="10" text-anchor="end" fill="#fff">TACO1</text>
<g>
<clipPath id="gc5"><rect x="150" y="199.8" width="138.2" height="37.8"/></clipPath>
<linearGradient id="gbg5" x1="0" y1="0" x2="0" y2="1"><stop offset="0" stop-color="#8e8e8e"/><stop offset="0.38" stop-color="#8e8e8e"/><stop offset="0.58" stop-color="#838383"/><stop offset="1" stop-color="#838383"/></linearGradient>
<g clip-path="url(#gc5)">
<rect x="150" y="199.8" width="138.2" height="37.8" fill="url(#gbg5)"/>
<g filter="url(#blur1)">
<rect x="149.12" y="197.8" width="3.5" height="41.8" fill="#b0b0b0" opacity="1"/>
<rect x="162.27" y="197.8" width="3.5" height="41.8" fill="#b0b0b0" opacity="1"/>
<rect x="175.42" y="197.8" width="3.5" height="41.8" fill="#b0b0b0" opacity="1"/>
<rect x="188.57" y="197.8" width="3.5" height="41.8" fill="#b0b0b0" opacity="1"/>
<rect x="201.72" y="197.8" width="3.5" height="41.8" fill="#b0b0b0" opacity="1"/>
<rect x="214.88" y="197.8" width="3.5" height="41.8" fill="#b0b0b0" opacity="1"/>
<rect x="228.02" y="197.8" width="3.5" height="41.8" fill="#b0b0b0" opacity="1"/>
<rect x="241.18" y="197.8" width="3.5" height="41.8" fill="#b0b0b0" opacity="1"/>
<rect x="254.32" y="197.8" width="3.5" height="41.8" fill="#b0b0b0" opacity="1"/>
<rect x="267.48" y="197.8" width="3.5" height="41.8" fill="#b0b0b0" opacity="1"/>
<rect x="280.62" y="197.8" width="3.5" height="41.8" fill="#b0b0b0" opacity="1"/>
</g>
<g filter="url(#blur2)">
<path d="M153.75 205.8 V227.8 Q153.75 230.8 156.75 230.8 H158.15 Q161.15 230.8 161.15 227.8 V205.8" fill="none" stroke="#333" stroke-width="2.2" opacity="0.3"/>
<rect x="152.55" y="219.8" width="9.8" height="7" fill="url(#smear_333)" opacity="0.3"/>
<rect x="152.55" y="225.8" width="9.8" height="5" rx="2" fill="#333" opacity="0.3"/>
<path d="M166.9 205.8 V227.8 Q166.9 230.8 169.9 230.8 H171.3 Q174.3 230.8 174.3 227.8 V205.8" fill="none" stroke="#222" stroke-width="2.2" opacity="0.4"/>
<rect x="165.7" y="217.8" width="9.8" height="9" fill="url(#smear_111)" opacity="0.8"/>
<rect x="165.7" y="225.8" width="9.8" height="5" rx="2" fill="#111" opacity="0.8"/>
<path d="M180.05 205.8 V227.8 Q180.05 230.8 183.05 230.8 H184.45 Q187.45 230.8 187.45 227.8 V205.8" fill="none" stroke="#222" stroke-width="2.2" opacity="0.4"/>
<rect x="178.85" y="217.8" width="9.8" height="9" fill="url(#smear_111)" opacity="0.8"/>
<rect x="178.85" y="225.8" width="9.8" height="5" rx="2" fill="#111" opacity="0.8"/>
<path d="M193.2 205.8 V227.8 Q193.2 230.8 196.2 230.8 H197.6 Q200.6 230.8 200.6 227.8 V205.8" fill="none" stroke="#222" stroke-width="2.2" opacity="0.4"/>
<rect x="192" y="217.8" width="9.8" height="9" fill="url(#smear_111)" opacity="0.8"/>
<rect x="192" y="225.8" width="9.8" height="5" rx="2" fill="#111" opacity="0.8"/>
<path d="M206.35 205.8 V227.8 Q206.35 230.8 209.35 230.8 H210.75 Q213.75 230.8 213.75 227.8 V205.8" fill="none" stroke="#333" stroke-width="2.2" opacity="0.3"/>
<rect x="205.15" y="219.8" width="9.8" height="7" fill="url(#smear_333)" opacity="0.3"/>
<rect x="205.15" y="225.8" width="9.8" height="5" rx="2" fill="#333" opacity="0.3"/>
<path d="M219.5 205.8 V227.8 Q219.5 230.8 222.5 230.8 H223.9 Q226.9 230.8 226.9 227.8 V205.8" fill="none" stroke="#333" stroke-width="2.2" opacity="0.2"/>
<rect x="218.3" y="219.8" width="9.8" height="7" fill="url(#smear_333)" opacity="0.15"/>
<rect x="218.3" y="225.8" width="9.8" height="5" rx="2" fill="#333" opacity="0.15"/>
<path d="M232.65 205.8 V227.8 Q232.65 230.8 235.65 230.8 H237.05 Q240.05 230.8 240.05 227.8 V205.8" fill="none" stroke="#333" stroke-width="2.2" opacity="0.3"/>
<rect x="231.45" y="216.8" width="9.8" height="9" fill="url(#smear_333)" opacity="0.4"/>
<rect x="231.45" y="224.8" width="9.8" height="6" rx="2" fill="#333" opacity="0.4"/>
<path d="M245.8 201.8 V229.8 Q245.8 232.8 248.8 232.8 H250.2 Q253.2 232.8 253.2 229.8 V201.8" fill="none" stroke="#222" stroke-width="2.2" opacity="0.5"/>
<rect x="244.6" y="201.8" width="9.8" height="3" fill="url(#smear_222)" opacity="0.5"/>
<rect x="244.6" y="203.8" width="9.8" height="10" rx="2" fill="#222" opacity="0.5"/>
<rect x="244.6" y="216.8" width="9.8" height="9" fill="url(#smear_222)" opacity="0.6"/>
<rect x="244.6" y="224.8" width="9.8" height="6" rx="2" fill="#222" opacity="0.6"/>
<path d="M258.95 201.8 V229.8 Q258.95 232.8 261.95 232.8 H263.35 Q266.35 232.8 266.35 229.8 V201.8" fill="none" stroke="#222" stroke-width="2.2" opacity="0.5"/>
<rect x="257.75" y="201.8" width="9.8" height="3" fill="url(#smear_222)" opacity="0.55"/>
<rect x="257.75" y="203.8" width="9.8" height="10" rx="2" fill="#222" opacity="0.55"/>
<rect x="257.75" y="216.8" width="9.8" height="9" fill="url(#smear_222)" opacity="0.6"/>
<rect x="257.75" y="224.8" width="9.8" height="6" rx="2" fill="#222" opacity="0.6"/>
<path d="M272.1 201.8 V229.8 Q272.1 232.8 275.1 232.8 H276.5 Q279.5 232.8 279.5 229.8 V201.8" fill="none" stroke="#111" stroke-width="2.2" opacity="0.55"/>
<rect x="270.9" y="201.8" width="9.8" height="3" fill="url(#smear_111)" opacity="0.6"/>
<rect x="270.9" y="203.8" width="9.8" height="10" rx="2" fill="#111" opacity="0.6"/>
<rect x="270.9" y="214.8" width="9.8" height="9" fill="url(#smear_111)" opacity="0.7"/>
<rect x="270.9" y="222.8" width="9.8" height="8" rx="2" fill="#111" opacity="0.7"/>
</g>
<circle cx="268.5" cy="234.8" r="1.8" fill="#fff" filter="url(#blur05)"/>
<circle cx="281.5" cy="234.8" r="2.3" fill="#fff" filter="url(#blur05)"/>
</g>
<rect x="150.55" y="200.35" width="137.1" height="36.7" fill="none" stroke="#333" stroke-width="1.1"/>
</g>
<text x="152.5" y="250.7" font-size="10.3" fill="#111"><tspan font-style="italic">mt-Co1</tspan> probe F</text>
<path d="M306.5 197.3 L426.7 197.3 L426.7 182 Z" fill="#111"/>
<rect x="306.5" y="196.4" width="120.2" height="0.9" fill="#111"/>
<text x="297.8" y="194.1" font-size="10.3" text-anchor="start" fill="#222">–</text>
<text x="423.7" y="194.8" font-size="10" text-anchor="end" fill="#fff">TACO1</text>
<g>
<clipPath id="gc6"><rect x="290.5" y="199.8" width="138.2" height="37.8"/></clipPath>
<linearGradient id="gbg6" x1="0" y1="0" x2="0" y2="1"><stop offset="0" stop-color="#a9a9a9"/><stop offset="0.38" stop-color="#a9a9a9"/><stop offset="0.58" stop-color="#a0a0a0"/><stop offset="1" stop-color="#a0a0a0"/></linearGradient>
<g clip-path="url(#gc6)">
<rect x="290.5" y="199.8" width="138.2" height="37.8" fill="url(#gbg6)"/>
<g filter="url(#blur1)">
<rect x="289.62" y="197.8" width="3.5" height="41.8" fill="#cccccc" opacity="1"/>
<rect x="302.77" y="197.8" width="3.5" height="41.8" fill="#cccccc" opacity="1"/>
<rect x="315.93" y="197.8" width="3.5" height="41.8" fill="#cccccc" opacity="1"/>
<rect x="329.07" y="197.8" width="3.5" height="41.8" fill="#cccccc" opacity="1"/>
<rect x="342.22" y="197.8" width="3.5" height="41.8" fill="#cccccc" opacity="1"/>
<rect x="355.38" y="197.8" width="3.5" height="41.8" fill="#cccccc" opacity="1"/>
<rect x="368.52" y="197.8" width="3.5" height="41.8" fill="#cccccc" opacity="1"/>
<rect x="381.68" y="197.8" width="3.5" height="41.8" fill="#cccccc" opacity="1"/>
<rect x="394.82" y="197.8" width="3.5" height="41.8" fill="#cccccc" opacity="1"/>
<rect x="407.98" y="197.8" width="3.5" height="41.8" fill="#cccccc" opacity="1"/>
<rect x="421.12" y="197.8" width="3.5" height="41.8" fill="#cccccc" opacity="1"/>
</g>
<g filter="url(#blur2)">
<path d="M294.15 208.8 V222.8 Q294.15 225.8 297.15 225.8 H298.75 Q301.75 225.8 301.75 222.8 V208.8" fill="none" stroke="#000" stroke-width="2" opacity="0.41"/>
<rect x="293.05" y="212.8" width="9.8" height="9" fill="url(#smear_000)" opacity="0.9"/>
<rect x="293.05" y="220.8" width="9.8" height="5" rx="2" fill="#000" opacity="0.9"/>
<path d="M307.3 208.3 V222.8 Q307.3 225.8 310.3 225.8 H311.9 Q314.9 225.8 314.9 222.8 V208.3" fill="none" stroke="#000" stroke-width="2" opacity="0.45"/>
<rect x="306.2" y="212.3" width="9.8" height="9" fill="url(#smear_000)" opacity="1"/>
<rect x="306.2" y="220.3" width="9.8" height="5.5" rx="2" fill="#000" opacity="1"/>
<path d="M320.45 208.3 V222.8 Q320.45 225.8 323.45 225.8 H325.05 Q328.05 225.8 328.05 222.8 V208.3" fill="none" stroke="#000" stroke-width="2" opacity="0.45"/>
<rect x="319.35" y="212.3" width="9.8" height="9" fill="url(#smear_000)" opacity="1"/>
<rect x="319.35" y="220.3" width="9.8" height="5.5" rx="2" fill="#000" opacity="1"/>
<path d="M333.6 208.3 V222.8 Q333.6 225.8 336.6 225.8 H338.2 Q341.2 225.8 341.2 222.8 V208.3" fill="none" stroke="#000" stroke-width="2" opacity="0.45"/>
<rect x="332.5" y="212.3" width="9.8" height="9" fill="url(#smear_000)" opacity="1"/>
<rect x="332.5" y="220.3" width="9.8" height="5.5" rx="2" fill="#000" opacity="1"/>
<path d="M346.75 208.8 V222.8 Q346.75 225.8 349.75 225.8 H351.35 Q354.35 225.8 354.35 222.8 V208.8" fill="none" stroke="#000" stroke-width="2" opacity="0.36"/>
<rect x="345.65" y="212.8" width="9.8" height="9" fill="url(#smear_000)" opacity="0.8"/>
<rect x="345.65" y="220.8" width="9.8" height="5" rx="2" fill="#000" opacity="0.8"/>
<rect x="358.8" y="209.8" width="9.8" height="5" fill="url(#smear_777)" opacity="0.25"/>
<rect x="358.8" y="213.8" width="9.8" height="20" rx="2" fill="#777" opacity="0.25"/>
<rect x="371.95" y="209.8" width="9.8" height="5" fill="url(#smear_777)" opacity="0.25"/>
<rect x="371.95" y="213.8" width="9.8" height="20" rx="2" fill="#777" opacity="0.25"/>
<rect x="385.1" y="209.8" width="9.8" height="5" fill="url(#smear_777)" opacity="0.3"/>
<rect x="385.1" y="213.8" width="9.8" height="20" rx="2" fill="#777" opacity="0.3"/>
<rect x="398.25" y="209.8" width="9.8" height="5" fill="url(#smear_777)" opacity="0.3"/>
<rect x="398.25" y="213.8" width="9.8" height="20" rx="2" fill="#777" opacity="0.3"/>
<rect x="411.4" y="209.8" width="9.8" height="5" fill="url(#smear_777)" opacity="0.3"/>
<rect x="411.4" y="213.8" width="9.8" height="20" rx="2" fill="#777" opacity="0.3"/>
</g>
<circle cx="372" cy="201.8" r="1.6" fill="#fff" filter="url(#blur05)"/>
</g>
<rect x="291.05" y="200.35" width="137.1" height="36.7" fill="none" stroke="#333" stroke-width="1.1"/>
</g>
<text x="291.8" y="250.7" font-size="10.3" fill="#111"><tspan font-style="italic">mt-Co1</tspan> probe G</text>
<path d="M446.3 197.3 L566.5 197.3 L566.5 182 Z" fill="#111"/>
<rect x="446.3" y="196.4" width="120.2" height="0.9" fill="#111"/>
<text x="437.6" y="194.1" font-size="10.3" text-anchor="start" fill="#222">–</text>
<text x="563.5" y="194.8" font-size="10" text-anchor="end" fill="#fff">TACO1</text>
<g>
<clipPath id="gc7"><rect x="430.3" y="199.8" width="138.2" height="37.8"/></clipPath>
<linearGradient id="gbg7" x1="0" y1="0" x2="0" y2="1"><stop offset="0" stop-color="#929292"/><stop offset="0.38" stop-color="#929292"/><stop offset="0.58" stop-color="#8a8a8a"/><stop offset="1" stop-color="#8a8a8a"/></linearGradient>
<g clip-path="url(#gc7)">
<rect x="430.3" y="199.8" width="138.2" height="37.8" fill="url(#gbg7)"/>
<g filter="url(#blur1)">
<rect x="429.43" y="197.8" width="3.5" height="41.8" fill="#b2b2b2" opacity="1"/>
<rect x="442.57" y="197.8" width="3.5" height="41.8" fill="#b2b2b2" opacity="1"/>
<rect x="455.73" y="197.8" width="3.5" height="41.8" fill="#b2b2b2" opacity="1"/>
<rect x="468.88" y="197.8" width="3.5" height="41.8" fill="#b2b2b2" opacity="1"/>
<rect x="482.02" y="197.8" width="3.5" height="41.8" fill="#b2b2b2" opacity="1"/>
<rect x="495.18" y="197.8" width="3.5" height="41.8" fill="#b2b2b2" opacity="1"/>
<rect x="508.32" y="197.8" width="3.5" height="41.8" fill="#b2b2b2" opacity="1"/>
<rect x="521.48" y="197.8" width="3.5" height="41.8" fill="#b2b2b2" opacity="1"/>
<rect x="534.62" y="197.8" width="3.5" height="41.8" fill="#b2b2b2" opacity="1"/>
<rect x="547.77" y="197.8" width="3.5" height="41.8" fill="#b2b2b2" opacity="1"/>
<rect x="560.92" y="197.8" width="3.5" height="41.8" fill="#b2b2b2" opacity="1"/>
</g>
<g filter="url(#blur2)">
<path d="M433.95 216.8 V230.8 Q433.95 233.8 436.95 233.8 H438.55 Q441.55 233.8 441.55 230.8 V216.8" fill="none" stroke="#111" stroke-width="2" opacity="0.23"/>
<rect x="432.85" y="220.8" width="9.8" height="9" fill="url(#smear_111)" opacity="0.5"/>
<rect x="432.85" y="228.8" width="9.8" height="5" rx="2" fill="#111" opacity="0.5"/>
<path d="M447.1 216.8 V230.8 Q447.1 233.8 450.1 233.8 H451.7 Q454.7 233.8 454.7 230.8 V216.8" fill="none" stroke="#111" stroke-width="2" opacity="0.27"/>
<rect x="446" y="220.8" width="9.8" height="9" fill="url(#smear_111)" opacity="0.6"/>
<rect x="446" y="228.8" width="9.8" height="5" rx="2" fill="#111" opacity="0.6"/>
<path d="M460.25 216.3 V230.8 Q460.25 233.8 463.25 233.8 H464.85 Q467.85 233.8 467.85 230.8 V216.3" fill="none" stroke="#111" stroke-width="2" opacity="0.34"/>
<rect x="459.15" y="220.3" width="9.8" height="9" fill="url(#smear_111)" opacity="0.75"/>
<rect x="459.15" y="228.3" width="9.8" height="5.5" rx="2" fill="#111" opacity="0.75"/>
<path d="M473.4 216.8 V230.8 Q473.4 233.8 476.4 233.8 H478 Q481 233.8 481 230.8 V216.8" fill="none" stroke="#111" stroke-width="2" opacity="0.27"/>
<rect x="472.3" y="220.8" width="9.8" height="9" fill="url(#smear_111)" opacity="0.6"/>
<rect x="472.3" y="228.8" width="9.8" height="5" rx="2" fill="#111" opacity="0.6"/>
<path d="M486.55 216.8 V230.8 Q486.55 233.8 489.55 233.8 H491.15 Q494.15 233.8 494.15 230.8 V216.8" fill="none" stroke="#111" stroke-width="2" opacity="0.23"/>
<rect x="485.45" y="220.8" width="9.8" height="9" fill="url(#smear_111)" opacity="0.5"/>
<rect x="485.45" y="228.8" width="9.8" height="5" rx="2" fill="#111" opacity="0.5"/>
</g>
</g>
<rect x="430.85" y="200.35" width="137.1" height="36.7" fill="none" stroke="#333" stroke-width="1.1"/>
</g>
<text x="433.3" y="250.7" font-size="10.3" fill="#111"><tspan font-style="italic">mt-Co1</tspan> probe H</text>
<path d="M26 272.3 L146.2 272.3 L146.2 256.4 Z" fill="#111"/>
<rect x="26" y="271.4" width="120.2" height="0.9" fill="#111"/>
<text x="17.3" y="269.1" font-size="10.3" text-anchor="start" fill="#222">–</text>
<text x="143.2" y="269.8" font-size="10" text-anchor="end" fill="#fff">TACO1</text>
<g>
<clipPath id="gc8"><rect x="10" y="274.5" width="138.2" height="38"/></clipPath>
<linearGradient id="gbg8" x1="0" y1="0" x2="0" y2="1"><stop offset="0" stop-color="#9c9c9c"/><stop offset="0.43" stop-color="#9c9c9c"/><stop offset="0.63" stop-color="#8e8e8e"/><stop offset="1" stop-color="#8e8e8e"/></linearGradient>
<g clip-path="url(#gc8)">
<rect x="10" y="274.5" width="138.2" height="38" fill="url(#gbg8)"/>
<g filter="url(#blur1)">
<rect x="9.12" y="272.5" width="3.5" height="42" fill="#c4c4c4" opacity="1"/>
<rect x="22.27" y="272.5" width="3.5" height="42" fill="#c4c4c4" opacity="1"/>
<rect x="35.42" y="272.5" width="3.5" height="42" fill="#c4c4c4" opacity="1"/>
<rect x="48.58" y="272.5" width="3.5" height="42" fill="#c4c4c4" opacity="1"/>
<rect x="61.72" y="272.5" width="3.5" height="42" fill="#c4c4c4" opacity="1"/>
<rect x="74.88" y="272.5" width="3.5" height="42" fill="#c4c4c4" opacity="1"/>
<rect x="88.03" y="272.5" width="3.5" height="42" fill="#c4c4c4" opacity="1"/>
<rect x="101.18" y="272.5" width="3.5" height="42" fill="#c4c4c4" opacity="1"/>
<rect x="114.33" y="272.5" width="3.5" height="42" fill="#c4c4c4" opacity="1"/>
<rect x="127.47" y="272.5" width="3.5" height="42" fill="#c4c4c4" opacity="1"/>
<rect x="140.62" y="272.5" width="3.5" height="42" fill="#c4c4c4" opacity="1"/>
</g>
<g filter="url(#blur2)">
<path d="M13.65 284.1 V300.1 Q13.65 303.1 16.65 303.1 H18.25 Q21.25 303.1 21.25 300.1 V284.1" fill="none" stroke="#000" stroke-width="2" opacity="0.45"/>
<rect x="12.55" y="288.1" width="9.8" height="10" fill="url(#smear_000)" opacity="1"/>
<rect x="12.55" y="297.1" width="9.8" height="6" rx="2" fill="#000" opacity="1"/>
<rect x="12.65" y="304.5" width="9.6" height="8" fill="#333" opacity="0.3"/>
<path d="M26.8 284.1 V300.1 Q26.8 303.1 29.8 303.1 H31.4 Q34.4 303.1 34.4 300.1 V284.1" fill="none" stroke="#000" stroke-width="2" opacity="0.45"/>
<rect x="25.7" y="288.1" width="9.8" height="10" fill="url(#smear_000)" opacity="1"/>
<rect x="25.7" y="297.1" width="9.8" height="6" rx="2" fill="#000" opacity="1"/>
<rect x="25.8" y="304.5" width="9.6" height="8" fill="#333" opacity="0.3"/>
<path d="M39.95 284.1 V300.1 Q39.95 303.1 42.95 303.1 H44.55 Q47.55 303.1 47.55 300.1 V284.1" fill="none" stroke="#000" stroke-width="2" opacity="0.45"/>
<rect x="38.85" y="288.1" width="9.8" height="10" fill="url(#smear_000)" opacity="1"/>
<rect x="38.85" y="297.1" width="9.8" height="6" rx="2" fill="#000" opacity="1"/>
<rect x="38.95" y="304.5" width="9.6" height="8" fill="#333" opacity="0.25"/>
<path d="M53.1 284.6 V300.1 Q53.1 303.1 56.1 303.1 H57.7 Q60.7 303.1 60.7 300.1 V284.6" fill="none" stroke="#000" stroke-width="2" opacity="0.41"/>
<rect x="52" y="288.6" width="9.8" height="10" fill="url(#smear_000)" opacity="0.9"/>
<rect x="52" y="297.6" width="9.8" height="5.5" rx="2" fill="#000" opacity="0.9"/>
<rect x="52.1" y="304.5" width="9.6" height="8" fill="#333" opacity="0.3"/>
<rect x="65.15" y="294.5" width="9.8" height="7" fill="url(#smear_000)" opacity="0.35"/>
<rect x="65.15" y="300.5" width="9.8" height="4" rx="2" fill="#000" opacity="0.35"/>
<rect x="65.25" y="304.5" width="9.6" height="8" fill="#333" opacity="0.3"/>
<rect x="78.4" y="280.5" width="9.6" height="14" fill="#ddd" opacity="0.3"/>
<path d="M92.65 278.5 V305.5 Q92.65 308.5 95.65 308.5 H97.05 Q100.05 308.5 100.05 305.5 V278.5" fill="none" stroke="#333" stroke-width="2.2" opacity="0.3"/>
<rect x="91.45" y="290.5" width="9.8" height="7" fill="url(#smear_555)" opacity="0.2"/>
<rect x="91.45" y="296.5" width="9.8" height="8" rx="2" fill="#555" opacity="0.2"/>
<path d="M105.8 278.5 V305.5 Q105.8 308.5 108.8 308.5 H110.2 Q113.2 308.5 113.2 305.5 V278.5" fill="none" stroke="#333" stroke-width="2.2" opacity="0.35"/>
<rect x="104.6" y="290.5" width="9.8" height="7" fill="url(#smear_555)" opacity="0.25"/>
<rect x="104.6" y="296.5" width="9.8" height="8" rx="2" fill="#555" opacity="0.25"/>
<path d="M118.95 276.5 V305.5 Q118.95 308.5 121.95 308.5 H123.35 Q126.35 308.5 126.35 305.5 V276.5" fill="none" stroke="#222" stroke-width="2.2" opacity="0.45"/>
<rect x="117.75" y="290.5" width="9.8" height="7" fill="url(#smear_555)" opacity="0.3"/>
<rect x="117.75" y="296.5" width="9.8" height="8" rx="2" fill="#555" opacity="0.3"/>
<path d="M132.1 276.5 V305.5 Q132.1 308.5 135.1 308.5 H136.5 Q139.5 308.5 139.5 305.5 V276.5" fill="none" stroke="#222" stroke-width="2.2" opacity="0.4"/>
<rect x="130.9" y="290.5" width="9.8" height="7" fill="url(#smear_555)" opacity="0.25"/>
<rect x="130.9" y="296.5" width="9.8" height="8" rx="2" fill="#555" opacity="0.25"/>
</g>
<circle cx="123.5" cy="305.5" r="1.9" fill="#fff" filter="url(#blur05)"/>
</g>
<rect x="10.55" y="275.05" width="137.1" height="36.9" fill="none" stroke="#333" stroke-width="1.1"/>
</g>
<text x="11.2" y="324.4" font-size="10.3" fill="#111"><tspan font-style="italic">mt-Co1</tspan> probe I</text>
<path d="M166 272.3 L286.2 272.3 L286.2 256.4 Z" fill="#111"/>
<rect x="166" y="271.4" width="120.2" height="0.9" fill="#111"/>
<text x="157.3" y="269.1" font-size="10.3" text-anchor="start" fill="#222">–</text>
<text x="283.2" y="269.8" font-size="10" text-anchor="end" fill="#fff">TACO1</text>
<g>
<clipPath id="gc9"><rect x="150" y="274.5" width="138.2" height="38"/></clipPath>
<linearGradient id="gbg9" x1="0" y1="0" x2="0" y2="1"><stop offset="0" stop-color="#fdfdfd"/><stop offset="0.38" stop-color="#fdfdfd"/><stop offset="0.58" stop-color="#fdfdfd"/><stop offset="1" stop-color="#fdfdfd"/></linearGradient>
<g clip-path="url(#gc9)">
<rect x="150" y="274.5" width="138.2" height="38" fill="url(#gbg9)"/>
<g filter="url(#blur1)">
<rect x="149.12" y="272.5" width="3.5" height="42" fill="#ffffff" opacity="1"/>
<rect x="162.27" y="272.5" width="3.5" height="42" fill="#ffffff" opacity="1"/>
<rect x="175.42" y="272.5" width="3.5" height="42" fill="#ffffff" opacity="1"/>
<rect x="188.57" y="272.5" width="3.5" height="42" fill="#ffffff" opacity="1"/>
<rect x="201.72" y="272.5" width="3.5" height="42" fill="#ffffff" opacity="1"/>
<rect x="214.88" y="272.5" width="3.5" height="42" fill="#ffffff" opacity="1"/>
<rect x="228.02" y="272.5" width="3.5" height="42" fill="#ffffff" opacity="1"/>
<rect x="241.18" y="272.5" width="3.5" height="42" fill="#ffffff" opacity="1"/>
<rect x="254.32" y="272.5" width="3.5" height="42" fill="#ffffff" opacity="1"/>
<rect x="267.48" y="272.5" width="3.5" height="42" fill="#ffffff" opacity="1"/>
<rect x="280.62" y="272.5" width="3.5" height="42" fill="#ffffff" opacity="1"/>
</g>
<g filter="url(#blur2)">
<rect x="152.15" y="291" width="10.6" height="12" fill="url(#smearS_000)" opacity="1"/>
<rect x="152.15" y="302" width="10.6" height="7.5" rx="2" fill="#000" opacity="1"/>
<rect x="165.3" y="291" width="10.6" height="12" fill="url(#smearS_000)" opacity="1"/>
<rect x="165.3" y="302" width="10.6" height="7.5" rx="2" fill="#000" opacity="1"/>
<rect x="178.45" y="291" width="10.6" height="12" fill="url(#smearS_000)" opacity="1"/>
<rect x="178.45" y="302" width="10.6" height="7.5" rx="2" fill="#000" opacity="1"/>
<rect x="191.6" y="291" width="10.6" height="12" fill="url(#smearS_000)" opacity="1"/>
<rect x="191.6" y="302" width="10.6" height="7.5" rx="2" fill="#000" opacity="1"/>
<rect x="204.75" y="291" width="10.6" height="12" fill="url(#smearS_000)" opacity="1"/>
<rect x="204.75" y="302" width="10.6" height="7.5" rx="2" fill="#000" opacity="1"/>
<rect x="217.9" y="291" width="10.6" height="12" fill="url(#smearS_000)" opacity="1"/>
<rect x="217.9" y="302" width="10.6" height="7.5" rx="2" fill="#000" opacity="1"/>
<rect x="231.05" y="291" width="10.6" height="12" fill="url(#smearS_000)" opacity="1"/>
<rect x="231.05" y="302" width="10.6" height="7.5" rx="2" fill="#000" opacity="1"/>
<rect x="244.2" y="291" width="10.6" height="12" fill="url(#smearS_000)" opacity="1"/>
<rect x="244.2" y="302" width="10.6" height="7.5" rx="2" fill="#000" opacity="1"/>
<rect x="257.35" y="291" width="10.6" height="12" fill="url(#smearS_000)" opacity="1"/>
<rect x="257.35" y="302" width="10.6" height="7.5" rx="2" fill="#000" opacity="1"/>
<rect x="270.5" y="291" width="10.6" height="12" fill="url(#smearS_000)" opacity="1"/>
<rect x="270.5" y="302" width="10.6" height="7.5" rx="2" fill="#000" opacity="1"/>
</g>
</g>
<rect x="150.55" y="275.05" width="137.1" height="36.9" fill="none" stroke="#333" stroke-width="1.1"/>
</g>
<text x="152.5" y="324.4" font-size="10.3" fill="#111"><tspan font-style="italic">mt-Atp8/6</tspan> control probe</text>
<path d="M306.5 272.3 L426.7 272.3 L426.7 256.4 Z" fill="#111"/>
<rect x="306.5" y="271.4" width="120.2" height="0.9" fill="#111"/>
<text x="297.8" y="269.1" font-size="10.3" text-anchor="start" fill="#222">–</text>
<text x="423.7" y="269.8" font-size="10" text-anchor="end" fill="#fff">TACO1</text>
<g>
<clipPath id="gc10"><rect x="290.5" y="274.5" width="138.2" height="38"/></clipPath>
<linearGradient id="gbg10" x1="0" y1="0" x2="0" y2="1"><stop offset="0" stop-color="#fdfdfd"/><stop offset="0.38" stop-color="#fdfdfd"/><stop offset="0.58" stop-color="#fdfdfd"/><stop offset="1" stop-color="#fdfdfd"/></linearGradient>
<g clip-path="url(#gc10)">
<rect x="290.5" y="274.5" width="138.2" height="38" fill="url(#gbg10)"/>
<g filter="url(#blur1)">
<rect x="289.62" y="272.5" width="3.5" height="42" fill="#ffffff" opacity="1"/>
<rect x="302.77" y="272.5" width="3.5" height="42" fill="#ffffff" opacity="1"/>
<rect x="315.93" y="272.5" width="3.5" height="42" fill="#ffffff" opacity="1"/>
<rect x="329.07" y="272.5" width="3.5" height="42" fill="#ffffff" opacity="1"/>
<rect x="342.22" y="272.5" width="3.5" height="42" fill="#ffffff" opacity="1"/>
<rect x="355.38" y="272.5" width="3.5" height="42" fill="#ffffff" opacity="1"/>
<rect x="368.52" y="272.5" width="3.5" height="42" fill="#ffffff" opacity="1"/>
<rect x="381.68" y="272.5" width="3.5" height="42" fill="#ffffff" opacity="1"/>
<rect x="394.82" y="272.5" width="3.5" height="42" fill="#ffffff" opacity="1"/>
<rect x="407.98" y="272.5" width="3.5" height="42" fill="#ffffff" opacity="1"/>
<rect x="421.12" y="272.5" width="3.5" height="42" fill="#ffffff" opacity="1"/>
</g>
<g filter="url(#blur2)">
<rect x="292.65" y="289" width="10.6" height="12" fill="url(#smearS_000)" opacity="0.9"/>
<rect x="292.65" y="300" width="10.6" height="8" rx="2" fill="#000" opacity="0.9"/>
<rect x="305.8" y="289" width="10.6" height="12" fill="url(#smearS_000)" opacity="0.95"/>
<rect x="305.8" y="300" width="10.6" height="8" rx="2" fill="#000" opacity="0.95"/>
<rect x="318.95" y="289" width="10.6" height="12" fill="url(#smearS_000)" opacity="0.95"/>
<rect x="318.95" y="300" width="10.6" height="8" rx="2" fill="#000" opacity="0.95"/>
<rect x="332.1" y="289" width="10.6" height="12" fill="url(#smearS_000)" opacity="1"/>
<rect x="332.1" y="300" width="10.6" height="8" rx="2" fill="#000" opacity="1"/>
<rect x="345.25" y="289" width="10.6" height="12" fill="url(#smearS_000)" opacity="1"/>
<rect x="345.25" y="300" width="10.6" height="8" rx="2" fill="#000" opacity="1"/>
<rect x="358.4" y="289" width="10.6" height="12" fill="url(#smearS_000)" opacity="1"/>
<rect x="358.4" y="300" width="10.6" height="8" rx="2" fill="#000" opacity="1"/>
<rect x="371.55" y="289" width="10.6" height="12" fill="url(#smearS_000)" opacity="0.9"/>
<rect x="371.55" y="300" width="10.6" height="8" rx="2" fill="#000" opacity="0.9"/>
<rect x="384.7" y="289" width="10.6" height="12" fill="url(#smearS_000)" opacity="0.75"/>
<rect x="384.7" y="300" width="10.6" height="8" rx="2" fill="#000" opacity="0.75"/>
<rect x="397.85" y="289" width="10.6" height="12" fill="url(#smearS_000)" opacity="0.9"/>
<rect x="397.85" y="300" width="10.6" height="8" rx="2" fill="#000" opacity="0.9"/>
<rect x="411" y="282" width="10.6" height="19" fill="url(#smearS_000)" opacity="0.55"/>
<rect x="411" y="300" width="10.6" height="8" rx="2" fill="#000" opacity="0.55"/>
</g>
</g>
<rect x="291.05" y="275.05" width="137.1" height="36.9" fill="none" stroke="#333" stroke-width="1.1"/>
</g>
<text x="291.8" y="324.4" font-size="10.3" fill="#111"><tspan font-style="italic">mt-Co2</tspan> control probe</text>
<text x="584.6" y="121.9" font-size="10.3" text-anchor="start" fill="#111">RNA-protein</text>
<text x="584.6" y="133.8" font-size="10.3" text-anchor="start" fill="#111">complex</text>
<text x="584.6" y="144.7" font-size="10.3" text-anchor="start" fill="#111">Free probe</text>
<path d="M570.7 128.8 H580.6 M574.4 126 L570.8 128.8 L574.4 131.6" stroke="#111" stroke-width="1.05" fill="none"/>
<path d="M570.7 140.1 H580.6 M574.4 137.3 L570.8 140.1 L574.4 142.9" stroke="#111" stroke-width="1.05" fill="none"/>
<text x="584.6" y="212.5" font-size="10.3" text-anchor="start" fill="#111">RNA-protein</text>
<text x="584.6" y="224.2" font-size="10.3" text-anchor="start" fill="#111">complex</text>
<text x="584.6" y="235.1" font-size="10.3" text-anchor="start" fill="#111">Free probe</text>
<path d="M570.7 219.8 H580.6 M574.4 217 L570.8 219.8 L574.4 222.6" stroke="#111" stroke-width="1.05" fill="none"/>
<path d="M570.7 231.5 H580.6 M574.4 228.7 L570.8 231.5 L574.4 234.3" stroke="#111" stroke-width="1.05" fill="none"/>
<path d="M431.7 289.4 H442.1 M435.4 286.6 L431.8 289.4 L435.4 292.2" stroke="#111" stroke-width="1.05" fill="none"/>
<path d="M431.7 304.8 H442.1 M435.4 302 L431.8 304.8 L435.4 307.6" stroke="#111" stroke-width="1.05" fill="none"/>
<text x="446.2" y="293.7" font-size="10.3" text-anchor="start" fill="#111">RNA-protein complex</text>
<text x="446.2" y="308.4" font-size="10.3" text-anchor="start" fill="#111">Free probe</text>
<text x="-0.5" y="362.6" font-size="19.5" text-anchor="start" fill="#000" font-weight="bold">b</text>
<path d="M47.6 378.9 V459.4" stroke="#222" stroke-width="0.9"/>
<path d="M44.6 379.4 H47.6" stroke="#222" stroke-width="0.9"/>
<text x="42.8" y="383.1" font-size="10.3" text-anchor="end" fill="#111">3,500</text>
<path d="M44.6 406 H47.6" stroke="#222" stroke-width="0.9"/>
<text x="42.8" y="409.7" font-size="10.3" text-anchor="end" fill="#111">2,500</text>
<path d="M44.6 432.8 H47.6" stroke="#222" stroke-width="0.9"/>
<text x="42.8" y="436.5" font-size="10.3" text-anchor="end" fill="#111">1,500</text>
<path d="M44.6 459.4 H47.6" stroke="#222" stroke-width="0.9"/>
<text x="42.8" y="463.1" font-size="10.3" text-anchor="end" fill="#111">500</text>
<text transform="translate(10.3 420) rotate(-90)" font-size="10.3" text-anchor="middle" fill="#111">TACO1 binding (A.U.)</text>
<path d="M47.6 459.4 H521.3" stroke="#222" stroke-width="0.9"/>
<path d="M524.9 459.4 H565.4" stroke="#222" stroke-width="0.9"/>
<path d="M568.8 459.4 H583.7" stroke="#222" stroke-width="0.9"/>
<path d="M587 459.4 H596.9" stroke="#222" stroke-width="0.9"/>
<path d="M601.1 459.4 H673.8" stroke="#222" stroke-width="0.9"/>
<path d="M79.2 459.4V457.6H80.4V459.4ZM106.8 459.4V445.1H109V459.4ZM109 459.4V428.4H110.9V459.4ZM113.6 459.4V454.3H115.8V459.4ZM115.8 459.4V458H118V459.4ZM125 459.4V458.6H127.3V459.4ZM127.6 459.4V448.6H129.6V459.4ZM141.2 459.4V450.8H143.4V459.4ZM143.4 459.4V385.1H145.8V459.4ZM150.8 459.4V452.5H153V459.4ZM183.2 459.4V446.4H185.2V459.4ZM202 459.4V426.5H204.2V459.4ZM204.2 459.4V417.3H206.2V459.4ZM206.2 459.4V451H208.8V459.4ZM211 459.4V430H213.4V459.4ZM213.4 459.4V420.8H215.1V459.4ZM215.1 459.4V458H218V459.4ZM218 459.4V445.7H220.4V459.4ZM220.4 459.4V435.2H222V459.4ZM222 459.4V442.2H224.6V459.4ZM224.6 459.4V452.3H227.2V459.4ZM227.2 459.4V430.8H229.2V459.4ZM231.8 459.4V419.9H233.8V459.4ZM233.8 459.4V445.7H236V459.4ZM243.2 459.4V444.9H245.8V459.4ZM245.8 459.4V439.2H247.8V459.4ZM247.8 459.4V452.3H250.4V459.4ZM257.1 459.4V456.1H259.1V459.4ZM277.7 459.4V430H280.1V459.4ZM280.1 459.4V454.4H282.6V459.4ZM282.6 459.4V446.9H284.4V459.4ZM284.4 459.4V445.2H286.4V459.4ZM286.4 459.4V450.6H288.8V459.4ZM291.8 459.4V453.9H296V459.4ZM296 459.4V422.9H298.8V459.4ZM357 459.4V457.6H358.2V459.4ZM402.9 459.4V453.1H405.4V459.4ZM405.4 459.4V449.4H407.6V459.4ZM431.2 459.4V439.5H433.2V459.4ZM452.5 459.4V457.8H453.7V459.4ZM472.9 459.4V448.9H475.4V459.4ZM491.5 459.4V456.4H494V459.4ZM496 459.4V455.1H498.2V459.4ZM498.2 459.4V439.5H500.2V459.4ZM516.8 459.4V453.1H518.8V459.4ZM576.3 459.4V447.7H578.3V459.4ZM657 459.4V437H659V459.4Z" fill="#000"/>
<text x="321.9" y="393.6" font-size="10.3" text-anchor="start" fill="#111">18-nt tiling</text>
<rect x="49.2" y="465.7" width="470.7" height="5.2" fill="#fff" stroke="#111" stroke-width="1.2"/>
<rect x="48.6" y="465.1" width="10.3" height="6.4" fill="#1a1a1a"/>
<rect x="58.9" y="466.2" width="8.2" height="4.2" fill="#f4ae22"/>
<rect x="67.1" y="465.1" width="1.5" height="6.4" fill="#1a1a1a"/>
<rect x="68.6" y="466.2" width="7.2" height="4.2" fill="#f4ae22"/>
<rect x="75.8" y="465.1" width="1.4" height="6.4" fill="#1a1a1a"/>
<rect x="77.2" y="464.8" width="3.9" height="7" fill="#fff"/>
<path d="M77 468.3 H81.3" stroke="#111" stroke-width="1"/>
<rect x="81.1" y="465.1" width="1.2" height="6.4" fill="#1a1a1a"/>
<rect x="82.3" y="466.2" width="7.3" height="4.2" fill="#f4ae22"/>
<rect x="89.6" y="465.1" width="1.5" height="6.4" fill="#1a1a1a"/>
<rect x="91.1" y="466.2" width="7.4" height="4.2" fill="#f4ae22"/>
<rect x="98.5" y="465.1" width="1.4" height="6.4" fill="#1a1a1a"/>
<rect x="295.1" y="465.1" width="1.7" height="6.4" fill="#1a1a1a"/>
<rect x="296.8" y="466.2" width="7.3" height="4.2" fill="#f4ae22"/>
<rect x="304.1" y="465.1" width="12" height="6.4" fill="#1a1a1a"/>
<rect x="402" y="465.1" width="11.6" height="6.4" fill="#1a1a1a"/>
<rect x="432.9" y="465.1" width="1.4" height="6.4" fill="#1a1a1a"/>
<rect x="437.9" y="465.1" width="1.6" height="6.4" fill="#1a1a1a"/>
<rect x="526" y="465.7" width="38.8" height="5.2" fill="#fff" stroke="#111" stroke-width="1.2"/>
<rect x="569.7" y="465.7" width="13.4" height="5.2" fill="#fff" stroke="#111" stroke-width="1.2"/>
<rect x="587.6" y="465.7" width="8.7" height="5.2" fill="#222" stroke="#111" stroke-width="1.2"/>
<rect x="601.7" y="465.7" width="64.6" height="5.2" fill="#fff" stroke="#111" stroke-width="1.2"/>
<path d="M666.9 468.3 H673.8" stroke="#111" stroke-width="1"/>
<text x="52.9" y="482.6" font-size="10.3" text-anchor="middle" fill="#111" font-style="italic">W</text>
<text x="62.5" y="482.6" font-size="10.3" text-anchor="middle" fill="#111" font-style="italic">A</text>
<text x="71.2" y="482.6" font-size="10.3" text-anchor="middle" fill="#111" font-style="italic">N</text>
<text x="84.9" y="482.6" font-size="10.3" text-anchor="middle" fill="#111" font-style="italic">C</text>
<text x="94.6" y="482.6" font-size="10.3" text-anchor="middle" fill="#111" font-style="italic">Y</text>
<text x="298.8" y="482.6" font-size="10.3" text-anchor="middle" fill="#111" font-style="italic">S</text>
<text x="310.8" y="482.6" font-size="10.3" text-anchor="middle" fill="#111" font-style="italic">D</text>
<text x="408.5" y="482.6" font-size="10.3" text-anchor="middle" fill="#111" font-style="italic">K</text>
<text x="345.1" y="482.6" font-size="10.3" text-anchor="start" fill="#111" font-style="italic">mt-Co2</text>
<text x="178.4" y="482.6" font-size="10.3" text-anchor="start" fill="#111" font-style="italic">mt-Co1</text>
<text x="436.2" y="482.6" font-size="10.3" text-anchor="start" fill="#111" font-style="italic">mt-Atp8/6</text>
<text x="530.1" y="482.6" font-size="10.3" text-anchor="start" fill="#111" font-style="italic">Rpph1</text>
<text x="569.5" y="482.6" font-size="10.3" text-anchor="start" fill="#111" font-style="italic">5S</text>
<text x="588" y="482.6" font-size="10.3" text-anchor="start" fill="#111" font-style="italic">M’</text>
<text x="624.2" y="482.6" font-size="10.3" text-anchor="start" fill="#111" font-style="italic">Actb</text>
<text x="246.9" y="498.5" font-size="10.3" text-anchor="start" fill="#111">Mouse mtDNA 4,932–8,622</text>
<text x="569.5" y="498.6" font-size="10.3" text-anchor="start" fill="#111">Controls</text>
<text x="-0.3" y="530.2" font-size="19.5" text-anchor="start" fill="#000" font-weight="bold">c</text>
<path d="M48.3 542.3 V628.5" stroke="#222" stroke-width="0.9"/>
<path d="M45.3 552.6 H48.3" stroke="#222" stroke-width="0.9"/>
<text x="43.4" y="556.3" font-size="10.3" text-anchor="end" fill="#111">4,500</text>
<path d="M45.3 571.5 H48.3" stroke="#222" stroke-width="0.9"/>
<text x="43.4" y="575.2" font-size="10.3" text-anchor="end" fill="#111">3,500</text>
<path d="M45.3 590.5 H48.3" stroke="#222" stroke-width="0.9"/>
<text x="43.4" y="594.2" font-size="10.3" text-anchor="end" fill="#111">2,500</text>
<path d="M45.3 609.5 H48.3" stroke="#222" stroke-width="0.9"/>
<text x="43.4" y="613.2" font-size="10.3" text-anchor="end" fill="#111">1,500</text>
<path d="M45.3 628.5 H48.3" stroke="#222" stroke-width="0.9"/>
<text x="43.4" y="632.2" font-size="10.3" text-anchor="end" fill="#111">500</text>
<text transform="translate(10.3 585) rotate(-90)" font-size="10.3" text-anchor="middle" fill="#111">TACO1 binding (A.U.)</text>
<path d="M48.3 628.5 H674.2" stroke="#222" stroke-width="0.9"/>
<path d="M177.6 628.5 V631.3" stroke="#222" stroke-width="0.9"/>
<text x="177.6" y="643.5" font-size="10.3" text-anchor="middle" fill="#111">5,500</text>
<path d="M308.6 628.5 V631.3" stroke="#222" stroke-width="0.9"/>
<text x="308.6" y="643.5" font-size="10.3" text-anchor="middle" fill="#111">6,000</text>
<path d="M439.3 628.5 V631.3" stroke="#222" stroke-width="0.9"/>
<text x="439.3" y="643.5" font-size="10.3" text-anchor="middle" fill="#111">6,500</text>
<path d="M569.5 628.5 V631.3" stroke="#222" stroke-width="0.9"/>
<text x="569.5" y="643.5" font-size="10.3" text-anchor="middle" fill="#111">7,000</text>
<text x="325" y="558" font-size="10.3" text-anchor="start" fill="#111">1-nt tiling</text>
<path d="M64.4 628.5v-6.09h0.33v6.09zM64.73 628.5v-9.16h0.33v9.16zM65.06 628.5v-14.61h0.33v14.61zM65.39 628.5v-15.72h0.33v15.72zM65.72 628.5v-17.42h0.33v17.42zM66.05 628.5v-10.24h0.33v10.24zM66.38 628.5v-21.79h0.33v21.79zM66.71 628.5v-22.39h0.33v22.39zM67.04 628.5v-31.65h0.33v31.65zM67.37 628.5v-26.65h0.33v26.65zM67.7 628.5v-24.23h0.33v24.23zM68.03 628.5v-29.26h0.33v29.26zM68.36 628.5v-14.54h0.33v14.54zM68.69 628.5v-25.87h0.33v25.87zM69.02 628.5v-24.81h0.33v24.81zM69.35 628.5v-25.96h0.33v25.96zM69.68 628.5v-17.49h0.33v17.49zM70.01 628.5v-22.64h0.33v22.64zM70.34 628.5v-24.21h0.33v24.21zM70.67 628.5v-22.32h0.33v22.32zM71 628.5v-22.17h0.33v22.17zM71.33 628.5v-22.64h0.33v22.64zM71.66 628.5v-20.13h0.33v20.13zM71.99 628.5v-24.34h0.33v24.34zM72.32 628.5v-19.68h0.33v19.68zM72.65 628.5v-16.04h0.33v16.04zM72.98 628.5v-16.95h0.33v16.95zM73.31 628.5v-15.38h0.33v15.38zM73.64 628.5v-14.1h0.33v14.1zM73.97 628.5v-14.38h0.33v14.38zM74.3 628.5v-13.24h0.33v13.24zM74.63 628.5v-11.58h0.33v11.58zM74.96 628.5v-10.08h0.33v10.08zM97.7 628.5v-15.65h0.33v15.65zM98.03 628.5v-17.38h0.33v17.38zM98.36 628.5v-21.53h0.33v21.53zM98.69 628.5v-34.68h0.33v34.68zM99.02 628.5v-30.87h0.33v30.87zM99.35 628.5v-30.82h0.33v30.82zM99.68 628.5v-30.23h0.33v30.23zM100.01 628.5v-17.14h0.33v17.14zM100.34 628.5v-28.45h0.33v28.45zM100.67 628.5v-27.78h0.33v27.78zM101 628.5v-32.29h0.33v32.29zM101.33 628.5v-23.41h0.33v23.41zM101.66 628.5v-27.51h0.33v27.51zM101.99 628.5v-24.18h0.33v24.18zM102.32 628.5v-12.91h0.33v12.91zM110 628.5v-7.2h0.33v7.2zM110.33 628.5v-6.79h0.33v6.79zM110.66 628.5v-8.87h0.33v8.87zM110.99 628.5v-10.45h0.33v10.45zM111.32 628.5v-10.86h0.33v10.86zM111.65 628.5v-9.75h0.33v9.75zM111.98 628.5v-10.11h0.33v10.11zM112.31 628.5v-10.77h0.33v10.77zM112.64 628.5v-9.73h0.33v9.73zM112.97 628.5v-6.89h0.33v6.89zM113.3 628.5v-8.95h0.33v8.95zM113.63 628.5v-8.26h0.33v8.26zM113.96 628.5v-7.09h0.33v7.09zM114.29 628.5v-6.97h0.33v6.97zM114.62 628.5v-3.86h0.33v3.86zM114.95 628.5v-4.51h0.33v4.51zM115.28 628.5v-5.15h0.33v5.15zM115.61 628.5v-4.1h0.33v4.1zM115.94 628.5v-8.44h0.33v8.44zM116.27 628.5v-9.15h0.33v9.15zM116.6 628.5v-5.97h0.33v5.97zM116.93 628.5v-7.39h0.33v7.39zM117.26 628.5v-4.5h0.33v4.5zM117.59 628.5v-8.85h0.33v8.85zM117.92 628.5v-6.19h0.33v6.19zM118.25 628.5v-2.92h0.33v2.92zM118.58 628.5v-5.13h0.33v5.13zM119.6 628.5v-5.86h0.33v5.86zM119.93 628.5v-10.87h0.33v10.87zM120.26 628.5v-9.32h0.33v9.32zM120.59 628.5v-11.44h0.33v11.44zM120.92 628.5v-22.59h0.33v22.59zM121.25 628.5v-21.33h0.33v21.33zM121.58 628.5v-18.37h0.33v18.37zM121.91 628.5v-16.96h0.33v16.96zM122.24 628.5v-16.7h0.33v16.7zM122.57 628.5v-14.8h0.33v14.8zM122.9 628.5v-16.79h0.33v16.79zM123.23 628.5v-11.02h0.33v11.02zM123.56 628.5v-8.5h0.33v8.5zM125.3 628.5v-8.66h0.33v8.66zM125.63 628.5v-6.43h0.33v6.43zM125.96 628.5v-10.8h0.33v10.8zM126.29 628.5v-12.44h0.33v12.44zM126.62 628.5v-15.14h0.33v15.14zM126.95 628.5v-20.87h0.33v20.87zM127.28 628.5v-17.58h0.33v17.58zM127.61 628.5v-16.7h0.33v16.7zM127.94 628.5v-17.53h0.33v17.53zM128.27 628.5v-24.11h0.33v24.11zM128.6 628.5v-20.63h0.33v20.63zM128.93 628.5v-19.04h0.33v19.04zM129.26 628.5v-16.53h0.33v16.53zM129.59 628.5v-17.59h0.33v17.59zM129.92 628.5v-16.14h0.33v16.14zM130.25 628.5v-13.86h0.33v13.86zM130.58 628.5v-13.64h0.33v13.64zM130.91 628.5v-15.87h0.33v15.87zM131.24 628.5v-18.51h0.33v18.51zM131.57 628.5v-12.89h0.33v12.89zM131.9 628.5v-9.17h0.33v9.17zM132.23 628.5v-19.35h0.33v19.35zM132.56 628.5v-18.12h0.33v18.12zM132.89 628.5v-20.58h0.33v20.58zM133.22 628.5v-18.36h0.33v18.36zM133.55 628.5v-9.69h0.33v9.69zM133.88 628.5v-19.11h0.33v19.11zM134.21 628.5v-21.24h0.33v21.24zM134.54 628.5v-20.2h0.33v20.2zM134.87 628.5v-16.84h0.33v16.84zM135.2 628.5v-12.97h0.33v12.97zM135.53 628.5v-10.43h0.33v10.43zM135.86 628.5v-7.94h0.33v7.94zM164 628.5v-16.11h0.33v16.11zM164.33 628.5v-16.66h0.33v16.66zM164.66 628.5v-23.9h0.33v23.9zM164.99 628.5v-25.63h0.33v25.63zM165.32 628.5v-23.93h0.33v23.93zM165.65 628.5v-17.87h0.33v17.87zM165.98 628.5v-17.79h0.33v17.79zM166.31 628.5v-26.19h0.33v26.19zM166.64 628.5v-28.08h0.33v28.08zM166.97 628.5v-31.78h0.33v31.78zM167.3 628.5v-31.19h0.33v31.19zM167.63 628.5v-33.48h0.33v33.48zM167.96 628.5v-32.33h0.33v32.33zM168.29 628.5v-34.11h0.33v34.11zM168.62 628.5v-38h0.33v38zM168.95 628.5v-37.98h0.33v37.98zM169.28 628.5v-41.16h0.33v41.16zM169.61 628.5v-40.83h0.33v40.83zM169.94 628.5v-41.61h0.33v41.61zM170.27 628.5v-42.59h0.33v42.59zM170.6 628.5v-53.27h0.33v53.27zM170.93 628.5v-58.1h0.33v58.1zM171.26 628.5v-50.05h0.33v50.05zM171.59 628.5v-59.44h0.33v59.44zM171.92 628.5v-41.16h0.33v41.16zM172.25 628.5v-48.29h0.33v48.29zM172.58 628.5v-49.23h0.33v49.23zM172.91 628.5v-50.54h0.33v50.54zM173.24 628.5v-71.93h0.33v71.93zM173.57 628.5v-51.6h0.33v51.6zM173.9 628.5v-39.76h0.33v39.76zM174.23 628.5v-68.46h0.33v68.46zM174.56 628.5v-56.03h0.33v56.03zM174.89 628.5v-47.74h0.33v47.74zM175.22 628.5v-49.65h0.33v49.65zM175.55 628.5v-41.61h0.33v41.61zM175.88 628.5v-41.38h0.33v41.38zM176.21 628.5v-37.04h0.33v37.04zM176.54 628.5v-28.29h0.33v28.29zM176.87 628.5v-34.98h0.33v34.98zM177.2 628.5v-30.68h0.33v30.68zM177.53 628.5v-31.93h0.33v31.93zM177.86 628.5v-31.85h0.33v31.85zM178.19 628.5v-37.36h0.33v37.36zM178.52 628.5v-26.59h0.33v26.59zM178.85 628.5v-25.88h0.33v25.88zM179.18 628.5v-16.04h0.33v16.04zM179.51 628.5v-31.81h0.33v31.81zM179.84 628.5v-27.59h0.33v27.59zM180.17 628.5v-27.87h0.33v27.87zM180.5 628.5v-24.08h0.33v24.08zM180.83 628.5v-11.41h0.33v11.41zM181.16 628.5v-21.38h0.33v21.38zM181.49 628.5v-20.75h0.33v20.75zM181.82 628.5v-18.13h0.33v18.13zM182.15 628.5v-17.55h0.33v17.55zM182.48 628.5v-15.84h0.33v15.84zM182.81 628.5v-13.15h0.33v13.15zM191.7 628.5v-5.25h0.33v5.25zM192.03 628.5v-2.71h0.33v2.71zM192.36 628.5v-4.98h0.33v4.98zM192.69 628.5v-2.75h0.33v2.75zM193.02 628.5v-5.26h0.33v5.26zM193.35 628.5v-5.81h0.33v5.81zM193.68 628.5v-6.56h0.33v6.56zM194.01 628.5v-4.55h0.33v4.55zM194.34 628.5v-3.97h0.33v3.97zM194.67 628.5v-3.57h0.33v3.57zM195 628.5v-6.14h0.33v6.14zM195.33 628.5v-5.44h0.33v5.44zM195.66 628.5v-4.74h0.33v4.74zM195.99 628.5v-5.48h0.33v5.48zM196.32 628.5v-5.11h0.33v5.11zM196.65 628.5v-4.93h0.33v4.93zM196.98 628.5v-6.21h0.33v6.21zM197.31 628.5v-4.67h0.33v4.67zM197.64 628.5v-4.81h0.33v4.81zM197.97 628.5v-4.49h0.33v4.49zM198.3 628.5v-2.21h0.33v2.21zM198.63 628.5v-4.06h0.33v4.06zM205 628.5v-8.56h0.33v8.56zM205.33 628.5v-14.71h0.33v14.71zM205.66 628.5v-17.51h0.33v17.51zM205.99 628.5v-16.98h0.33v16.98zM206.32 628.5v-17.92h0.33v17.92zM206.65 628.5v-18.45h0.33v18.45zM206.98 628.5v-23.13h0.33v23.13zM207.31 628.5v-22.23h0.33v22.23zM207.64 628.5v-23.9h0.33v23.9zM207.97 628.5v-20.93h0.33v20.93zM208.3 628.5v-20.3h0.33v20.3zM208.63 628.5v-22.2h0.33v22.2zM208.96 628.5v-21.66h0.33v21.66zM209.29 628.5v-21.36h0.33v21.36zM209.62 628.5v-22.24h0.33v22.24zM209.95 628.5v-12.17h0.33v12.17zM210.28 628.5v-25.12h0.33v25.12zM210.61 628.5v-27.31h0.33v27.31zM210.94 628.5v-29.1h0.33v29.1zM211.27 628.5v-37.29h0.33v37.29zM211.6 628.5v-29.19h0.33v29.19zM211.93 628.5v-25.61h0.33v25.61zM212.26 628.5v-28.92h0.33v28.92zM212.59 628.5v-25.34h0.33v25.34zM212.92 628.5v-27.85h0.33v27.85zM213.25 628.5v-28.37h0.33v28.37zM213.58 628.5v-27.58h0.33v27.58zM213.91 628.5v-30.86h0.33v30.86zM214.24 628.5v-34.01h0.33v34.01zM214.57 628.5v-42.38h0.33v42.38zM214.9 628.5v-36.94h0.33v36.94zM215.23 628.5v-21.33h0.33v21.33zM215.56 628.5v-33.88h0.33v33.88zM215.89 628.5v-32.25h0.33v32.25zM216.22 628.5v-32.96h0.33v32.96zM216.55 628.5v-31.69h0.33v31.69zM216.88 628.5v-20.08h0.33v20.08zM217.21 628.5v-29.9h0.33v29.9zM217.54 628.5v-28.13h0.33v28.13zM217.87 628.5v-20.73h0.33v20.73zM218.2 628.5v-28.02h0.33v28.02zM218.53 628.5v-24.89h0.33v24.89zM218.86 628.5v-26.91h0.33v26.91zM219.19 628.5v-32.81h0.33v32.81zM219.52 628.5v-24.96h0.33v24.96zM219.85 628.5v-24.39h0.33v24.39zM220.18 628.5v-24.94h0.33v24.94zM220.51 628.5v-17.55h0.33v17.55zM220.84 628.5v-21.96h0.33v21.96zM221.17 628.5v-23.56h0.33v23.56zM221.5 628.5v-15.91h0.33v15.91zM221.83 628.5v-20.49h0.33v20.49zM222.16 628.5v-22.03h0.33v22.03zM222.49 628.5v-21.62h0.33v21.62zM222.82 628.5v-20.7h0.33v20.7zM223.15 628.5v-13.26h0.33v13.26zM223.48 628.5v-15.62h0.33v15.62zM223.81 628.5v-23.09h0.33v23.09zM224.14 628.5v-14.45h0.33v14.45zM224.47 628.5v-18.55h0.33v18.55zM224.8 628.5v-12.64h0.33v12.64zM234.6 628.5v-5.85h0.33v5.85zM234.93 628.5v-5.63h0.33v5.63zM235.26 628.5v-6.19h0.33v6.19zM235.59 628.5v-6.29h0.33v6.29zM235.92 628.5v-8.21h0.33v8.21zM236.25 628.5v-8.97h0.33v8.97zM236.58 628.5v-10.29h0.33v10.29zM236.91 628.5v-6.65h0.33v6.65zM237.24 628.5v-8.98h0.33v8.98zM237.57 628.5v-9.22h0.33v9.22zM237.9 628.5v-8.41h0.33v8.41zM238.23 628.5v-8.25h0.33v8.25zM238.56 628.5v-7.49h0.33v7.49zM238.89 628.5v-6.35h0.33v6.35zM239.22 628.5v-7.74h0.33v7.74zM239.55 628.5v-7.29h0.33v7.29zM239.88 628.5v-6.36h0.33v6.36zM240.21 628.5v-6.53h0.33v6.53zM240.54 628.5v-5.57h0.33v5.57zM240.87 628.5v-3.11h0.33v3.11zM241.2 628.5v-4.59h0.33v4.59zM241.53 628.5v-5.12h0.33v5.12zM250.5 628.5v-11.44h0.33v11.44zM250.83 628.5v-9.69h0.33v9.69zM251.16 628.5v-19.04h0.33v19.04zM251.49 628.5v-19.5h0.33v19.5zM251.82 628.5v-25.85h0.33v25.85zM252.15 628.5v-24.33h0.33v24.33zM252.48 628.5v-19.45h0.33v19.45zM252.81 628.5v-27.74h0.33v27.74zM253.14 628.5v-29.64h0.33v29.64zM253.47 628.5v-18.03h0.33v18.03zM253.8 628.5v-27.72h0.33v27.72zM254.13 628.5v-33.71h0.33v33.71zM254.46 628.5v-34.54h0.33v34.54zM254.79 628.5v-39.98h0.33v39.98zM255.12 628.5v-39.98h0.33v39.98zM255.45 628.5v-41.1h0.33v41.1zM255.78 628.5v-23.09h0.33v23.09zM256.11 628.5v-49.31h0.33v49.31zM256.44 628.5v-45.75h0.33v45.75zM256.77 628.5v-63.52h0.33v63.52zM257.1 628.5v-32.57h0.33v32.57zM257.43 628.5v-28.17h0.33v28.17zM257.76 628.5v-32.4h0.33v32.4zM258.09 628.5v-52.04h0.33v52.04zM258.42 628.5v-68.73h0.33v68.73zM258.75 628.5v-59.52h0.33v59.52zM259.08 628.5v-58.3h0.33v58.3zM259.41 628.5v-59.59h0.33v59.59zM259.74 628.5v-58.31h0.33v58.31zM260.07 628.5v-56.37h0.33v56.37zM260.4 628.5v-62.51h0.33v62.51zM260.73 628.5v-63.9h0.33v63.9zM261.06 628.5v-56.86h0.33v56.86zM261.39 628.5v-56.19h0.33v56.19zM261.72 628.5v-58.91h0.33v58.91zM262.05 628.5v-44.57h0.33v44.57zM262.38 628.5v-45.05h0.33v45.05zM262.71 628.5v-46.34h0.33v46.34zM263.04 628.5v-28.25h0.33v28.25zM263.37 628.5v-40.68h0.33v40.68zM263.7 628.5v-39.38h0.33v39.38zM264.03 628.5v-27.14h0.33v27.14zM264.36 628.5v-10.79h0.33v10.79zM264.69 628.5v-16.2h0.33v16.2zM265.02 628.5v-12.29h0.33v12.29zM290.8 628.5v-7.28h0.33v7.28zM291.13 628.5v-8.07h0.33v8.07zM291.46 628.5v-8.5h0.33v8.5zM291.79 628.5v-11.39h0.33v11.39zM292.12 628.5v-11.35h0.33v11.35zM292.45 628.5v-11.45h0.33v11.45zM292.78 628.5v-13.37h0.33v13.37zM293.11 628.5v-7.16h0.33v7.16zM293.44 628.5v-13.68h0.33v13.68zM293.77 628.5v-13.31h0.33v13.31zM294.1 628.5v-9.76h0.33v9.76zM294.43 628.5v-12.93h0.33v12.93zM294.76 628.5v-14.11h0.33v14.11zM295.09 628.5v-13.85h0.33v13.85zM295.42 628.5v-12.5h0.33v12.5zM295.75 628.5v-13.78h0.33v13.78zM296.08 628.5v-7.57h0.33v7.57zM296.41 628.5v-11.41h0.33v11.41zM296.74 628.5v-10.15h0.33v10.15zM297.07 628.5v-11.53h0.33v11.53zM297.4 628.5v-4.55h0.33v4.55zM297.73 628.5v-6.69h0.33v6.69zM298.06 628.5v-4.34h0.33v4.34zM397.3 628.5v-5.45h0.33v5.45zM397.63 628.5v-6.27h0.33v6.27zM397.96 628.5v-7.82h0.33v7.82zM398.29 628.5v-8.75h0.33v8.75zM398.62 628.5v-9.02h0.33v9.02zM398.95 628.5v-11.97h0.33v11.97zM399.28 628.5v-7.84h0.33v7.84zM399.61 628.5v-12.03h0.33v12.03zM399.94 628.5v-17.15h0.33v17.15zM400.27 628.5v-12.98h0.33v12.98zM400.6 628.5v-15.21h0.33v15.21zM400.93 628.5v-7.19h0.33v7.19zM401.26 628.5v-12.51h0.33v12.51zM401.59 628.5v-17.73h0.33v17.73zM401.92 628.5v-16.91h0.33v16.91zM402.25 628.5v-13.89h0.33v13.89zM402.58 628.5v-14.4h0.33v14.4zM402.91 628.5v-10.13h0.33v10.13zM403.24 628.5v-12.98h0.33v12.98zM403.57 628.5v-12.23h0.33v12.23zM403.9 628.5v-6.68h0.33v6.68zM404.23 628.5v-11.66h0.33v11.66zM404.56 628.5v-10.37h0.33v10.37zM404.89 628.5v-12.42h0.33v12.42zM405.22 628.5v-11.18h0.33v11.18zM405.55 628.5v-11.74h0.33v11.74zM405.88 628.5v-10.27h0.33v10.27zM406.21 628.5v-12.4h0.33v12.4zM406.54 628.5v-9.61h0.33v9.61zM406.87 628.5v-8.13h0.33v8.13zM407.2 628.5v-8.91h0.33v8.91zM407.53 628.5v-6.77h0.33v6.77zM407.86 628.5v-3.9h0.33v3.9zM408.19 628.5v-7.92h0.33v7.92zM408.52 628.5v-8.94h0.33v8.94zM408.85 628.5v-6.26h0.33v6.26zM409.18 628.5v-6.29h0.33v6.29zM409.51 628.5v-5.18h0.33v5.18zM412.2 628.5v-4.16h0.33v4.16zM412.53 628.5v-4.3h0.33v4.3zM412.86 628.5v-5.31h0.33v5.31zM413.19 628.5v-4.67h0.33v4.67zM413.52 628.5v-5.46h0.33v5.46zM413.85 628.5v-7.27h0.33v7.27zM414.18 628.5v-4.97h0.33v4.97zM414.51 628.5v-4.69h0.33v4.69zM414.84 628.5v-3.83h0.33v3.83zM420.7 628.5v-26.3h0.33v26.3zM421.03 628.5v-29.4h0.33v29.4zM421.36 628.5v-31.45h0.33v31.45zM421.69 628.5v-32.96h0.33v32.96zM422.02 628.5v-29.46h0.33v29.46zM422.35 628.5v-36.71h0.33v36.71zM422.68 628.5v-23.21h0.33v23.21zM423.01 628.5v-39.03h0.33v39.03zM423.34 628.5v-50.43h0.33v50.43zM423.67 628.5v-60.44h0.33v60.44zM424 628.5v-25.85h0.33v25.85zM424.33 628.5v-38.6h0.33v38.6zM424.66 628.5v-39.08h0.33v39.08zM424.99 628.5v-33.41h0.33v33.41zM425.32 628.5v-31.16h0.33v31.16zM425.65 628.5v-27.41h0.33v27.41zM425.98 628.5v-16.77h0.33v16.77zM426.31 628.5v-18.99h0.33v18.99zM426.64 628.5v-15.44h0.33v15.44zM426.97 628.5v-11.27h0.33v11.27zM427.3 628.5v-12.96h0.33v12.96zM427.63 628.5v-13.81h0.33v13.81zM427.96 628.5v-11.76h0.33v11.76zM428.29 628.5v-12.62h0.33v12.62zM428.62 628.5v-9.81h0.33v9.81zM441.2 628.5v-5.46h0.33v5.46zM441.53 628.5v-5.45h0.33v5.45zM441.86 628.5v-6.99h0.33v6.99zM442.19 628.5v-10.43h0.33v10.43zM442.52 628.5v-8.21h0.33v8.21zM442.85 628.5v-5.08h0.33v5.08zM443.18 628.5v-11.34h0.33v11.34zM443.51 628.5v-12.22h0.33v12.22zM443.84 628.5v-13.06h0.33v13.06zM444.17 628.5v-12.66h0.33v12.66zM444.5 628.5v-11.95h0.33v11.95zM444.83 628.5v-14.49h0.33v14.49zM445.16 628.5v-14.25h0.33v14.25zM445.49 628.5v-14.63h0.33v14.63zM445.82 628.5v-15.45h0.33v15.45zM446.15 628.5v-16.98h0.33v16.98zM446.48 628.5v-15.95h0.33v15.95zM446.81 628.5v-13.04h0.33v13.04zM447.14 628.5v-15.53h0.33v15.53zM447.47 628.5v-15.4h0.33v15.4zM447.8 628.5v-6.78h0.33v6.78zM448.13 628.5v-12.05h0.33v12.05zM448.46 628.5v-8h0.33v8zM448.79 628.5v-8.83h0.33v8.83zM449.12 628.5v-7.71h0.33v7.71zM449.45 628.5v-7.29h0.33v7.29zM451.8 628.5v-6.93h0.33v6.93zM452.13 628.5v-8.51h0.33v8.51zM452.46 628.5v-13.6h0.33v13.6zM452.79 628.5v-7.41h0.33v7.41zM453.12 628.5v-13.85h0.33v13.85zM453.45 628.5v-15.78h0.33v15.78zM453.78 628.5v-16.34h0.33v16.34zM454.11 628.5v-21.37h0.33v21.37zM454.44 628.5v-12.94h0.33v12.94zM454.77 628.5v-17.27h0.33v17.27zM455.1 628.5v-22.35h0.33v22.35zM455.43 628.5v-16h0.33v16zM455.76 628.5v-15.94h0.33v15.94zM456.09 628.5v-15.36h0.33v15.36zM456.42 628.5v-22.07h0.33v22.07zM456.75 628.5v-18.9h0.33v18.9zM457.08 628.5v-28.73h0.33v28.73zM457.41 628.5v-12.75h0.33v12.75zM457.74 628.5v-29.38h0.33v29.38zM458.07 628.5v-13.96h0.33v13.96zM458.4 628.5v-20.7h0.33v20.7zM458.73 628.5v-19.43h0.33v19.43zM459.06 628.5v-14.11h0.33v14.11zM459.39 628.5v-16.73h0.33v16.73zM459.72 628.5v-14.71h0.33v14.71zM460.05 628.5v-11.35h0.33v11.35zM460.38 628.5v-12.14h0.33v12.14zM460.71 628.5v-11.57h0.33v11.57zM461.04 628.5v-9.83h0.33v9.83zM461.37 628.5v-11.89h0.33v11.89zM461.7 628.5v-7.6h0.33v7.6zM463 628.5v-5.65h0.33v5.65zM463.33 628.5v-7.44h0.33v7.44zM463.66 628.5v-11.05h0.33v11.05zM463.99 628.5v-13.01h0.33v13.01zM464.32 628.5v-14.48h0.33v14.48zM464.65 628.5v-16.35h0.33v16.35zM464.98 628.5v-18.27h0.33v18.27zM465.31 628.5v-18.87h0.33v18.87zM465.64 628.5v-20.58h0.33v20.58zM465.97 628.5v-19.53h0.33v19.53zM466.3 628.5v-11.33h0.33v11.33zM466.63 628.5v-10.22h0.33v10.22zM466.96 628.5v-12.64h0.33v12.64zM467.29 628.5v-10.87h0.33v10.87zM467.62 628.5v-6.72h0.33v6.72zM467.95 628.5v-5.89h0.33v5.89zM477.3 628.5v-3.44h0.33v3.44zM477.63 628.5v-2.35h0.33v2.35zM477.96 628.5v-3.51h0.33v3.51zM478.29 628.5v-3.15h0.33v3.15zM478.62 628.5v-4.89h0.33v4.89zM478.95 628.5v-3.92h0.33v3.92zM479.28 628.5v-4.07h0.33v4.07zM479.61 628.5v-4.2h0.33v4.2zM479.94 628.5v-2.84h0.33v2.84zM480.27 628.5v-4.07h0.33v4.07zM480.6 628.5v-2.77h0.33v2.77zM501.9 628.5v-2.63h0.33v2.63zM502.23 628.5v-3.95h0.33v3.95zM502.56 628.5v-3.38h0.33v3.38zM502.89 628.5v-5.5h0.33v5.5zM503.22 628.5v-4.73h0.33v4.73zM503.55 628.5v-5.35h0.33v5.35zM503.88 628.5v-2.81h0.33v2.81zM504.21 628.5v-6.79h0.33v6.79zM504.54 628.5v-8.31h0.33v8.31zM504.87 628.5v-6.63h0.33v6.63zM505.2 628.5v-6.78h0.33v6.78zM505.53 628.5v-7.44h0.33v7.44zM505.86 628.5v-7.8h0.33v7.8zM506.19 628.5v-9.27h0.33v9.27zM506.52 628.5v-8.26h0.33v8.26zM506.85 628.5v-7.86h0.33v7.86zM507.18 628.5v-8.16h0.33v8.16zM507.51 628.5v-8.49h0.33v8.49zM507.84 628.5v-7.86h0.33v7.86zM508.17 628.5v-5.42h0.33v5.42zM508.5 628.5v-6.66h0.33v6.66zM508.83 628.5v-9.14h0.33v9.14zM509.16 628.5v-11.28h0.33v11.28zM509.49 628.5v-9.37h0.33v9.37zM509.82 628.5v-5.76h0.33v5.76zM510.15 628.5v-4.77h0.33v4.77zM510.48 628.5v-10h0.33v10zM510.81 628.5v-11.22h0.33v11.22zM511.14 628.5v-8.18h0.33v8.18zM511.47 628.5v-6.03h0.33v6.03zM511.8 628.5v-6.91h0.33v6.91zM512.13 628.5v-6.47h0.33v6.47zM512.46 628.5v-6.02h0.33v6.02zM512.79 628.5v-5.75h0.33v5.75zM513.12 628.5v-5.18h0.33v5.18zM513.45 628.5v-4.92h0.33v4.92zM513.78 628.5v-2.25h0.33v2.25zM539 628.5v-10.72h0.33v10.72zM539.33 628.5v-12.24h0.33v12.24zM539.66 628.5v-11.65h0.33v11.65zM539.99 628.5v-11.16h0.33v11.16zM540.32 628.5v-12.35h0.33v12.35zM540.65 628.5v-12.48h0.33v12.48zM540.98 628.5v-12.69h0.33v12.69zM541.31 628.5v-13.15h0.33v13.15zM541.64 628.5v-10.57h0.33v10.57zM541.97 628.5v-10.89h0.33v10.89zM597.1 628.5v-4.88h0.33v4.88zM597.43 628.5v-5.41h0.33v5.41zM597.76 628.5v-5.6h0.33v5.6zM598.09 628.5v-6.73h0.33v6.73zM598.42 628.5v-7.66h0.33v7.66zM598.75 628.5v-6.74h0.33v6.74zM599.08 628.5v-8.62h0.33v8.62zM599.41 628.5v-10.12h0.33v10.12zM599.74 628.5v-10.5h0.33v10.5zM600.07 628.5v-9.91h0.33v9.91zM600.4 628.5v-11.04h0.33v11.04zM600.73 628.5v-10.57h0.33v10.57zM601.06 628.5v-5.55h0.33v5.55zM601.39 628.5v-5.32h0.33v5.32zM601.72 628.5v-8.65h0.33v8.65zM602.05 628.5v-8.66h0.33v8.66zM602.38 628.5v-8.21h0.33v8.21zM602.71 628.5v-7.58h0.33v7.58zM603.04 628.5v-7.44h0.33v7.44zM603.37 628.5v-6.96h0.33v6.96zM603.7 628.5v-7.78h0.33v7.78zM604.03 628.5v-6.21h0.33v6.21zM604.36 628.5v-7.16h0.33v7.16zM604.69 628.5v-9.65h0.33v9.65zM605.02 628.5v-7.85h0.33v7.85zM605.35 628.5v-8.07h0.33v8.07zM605.68 628.5v-8.71h0.33v8.71zM606.01 628.5v-7.94h0.33v7.94zM606.34 628.5v-9.93h0.33v9.93zM606.67 628.5v-7.9h0.33v7.9zM607 628.5v-10.19h0.33v10.19zM607.33 628.5v-7.95h0.33v7.95zM607.66 628.5v-7.52h0.33v7.52zM607.99 628.5v-6.57h0.33v6.57zM608.32 628.5v-6.77h0.33v6.77zM608.65 628.5v-3.05h0.33v3.05zM608.98 628.5v-5.56h0.33v5.56zM609.31 628.5v-2.81h0.33v2.81zM609.64 628.5v-1.92h0.33v1.92zM609.97 628.5v-3.47h0.33v3.47zM627.4 628.5v-9.29h0.33v9.29zM627.73 628.5v-9.35h0.33v9.35zM628.06 628.5v-10.73h0.33v10.73zM628.39 628.5v-15.63h0.33v15.63zM628.72 628.5v-13.83h0.33v13.83zM629.05 628.5v-18.58h0.33v18.58zM629.38 628.5v-13.96h0.33v13.96zM629.71 628.5v-8.22h0.33v8.22zM630.04 628.5v-17.59h0.33v17.59zM630.37 628.5v-17.96h0.33v17.96zM630.7 628.5v-18.85h0.33v18.85zM631.03 628.5v-9.99h0.33v9.99zM631.36 628.5v-21.01h0.33v21.01zM631.69 628.5v-20.56h0.33v20.56zM632.02 628.5v-20.45h0.33v20.45zM632.35 628.5v-22.14h0.33v22.14zM632.68 628.5v-22.4h0.33v22.4zM633.01 628.5v-23.57h0.33v23.57zM633.34 628.5v-22.38h0.33v22.38zM633.67 628.5v-19.08h0.33v19.08zM634 628.5v-19.53h0.33v19.53zM634.33 628.5v-18.5h0.33v18.5zM634.66 628.5v-18.14h0.33v18.14zM634.99 628.5v-14.25h0.33v14.25zM635.32 628.5v-13.13h0.33v13.13zM635.65 628.5v-13.92h0.33v13.92zM635.98 628.5v-18.14h0.33v18.14zM636.31 628.5v-12.07h0.33v12.07zM636.64 628.5v-12h0.33v12zM636.97 628.5v-10.5h0.33v10.5zM67.65 628.5V592.7h0.5V628.5zM77 628.5V622.8h0.6V628.5zM94.2 628.5V620.7h0.6V628.5zM173 628.5V549.2h0.6V628.5zM168.3 628.5V588h0.6V628.5zM185 628.5V619.7h1V628.5zM232.95 628.5V574.3h0.5V628.5zM274.6 628.5V624.8h0.8V628.5zM285.9 628.5V624h0.8V628.5zM302.35 628.5V617.7h0.7V628.5zM309.7 628.5V620.7h0.6V628.5zM343 628.5V619.3h1.6V628.5zM353.7 628.5V616.6h1.4V628.5zM386.85 628.5V622.8h0.5V628.5zM423.55 628.5V564.5h0.5V628.5zM494.2 628.5V623.4h1V628.5zM510.15 628.5V611.5h0.5V628.5zM534.2 628.5V624.2h0.8V628.5zM655.95 628.5V622.2h0.9V628.5zM564.4 628.5V626h0.8V628.5zM665.3 628.5V627h0.6V628.5zM215.9 628.5V579h0.4V628.5zM258.35 628.5V566h0.5V628.5z" fill="#000"/>
<rect x="49.5" y="645.9" width="21.9" height="5.3" fill="#f4ae22" stroke="#111" stroke-width="1.2"/>
<rect x="73.8" y="645.9" width="22.4" height="5.3" fill="#f4ae22" stroke="#111" stroke-width="1.2"/>
<path d="M96.8 648.55 H107.2" stroke="#111" stroke-width="0.9"/>
<rect x="107.8" y="645.9" width="20.6" height="5.3" fill="#f4ae22" stroke="#111" stroke-width="1.2"/>
<rect x="131.4" y="645.9" width="20.6" height="5.3" fill="#f4ae22" stroke="#111" stroke-width="1.2"/>
<rect x="154.2" y="645.9" width="518.4" height="5.3" fill="#fff" stroke="#111" stroke-width="1.2"/>
<rect x="649.5" y="645.3" width="2" height="6.5" fill="#111"/>
<rect x="651.5" y="646.3" width="21.2" height="4.5" fill="#f4ae22"/>
<text x="56.4" y="662.7" font-size="10.3" text-anchor="start" fill="#111" font-style="italic">A</text>
<text x="80.4" y="662.7" font-size="10.3" text-anchor="start" fill="#111" font-style="italic">N</text>
<text x="112.7" y="662.7" font-size="10.3" text-anchor="start" fill="#111" font-style="italic">C</text>
<text x="137.5" y="662.7" font-size="10.3" text-anchor="start" fill="#111" font-style="italic">Y</text>
<text x="658.4" y="662.7" font-size="10.3" text-anchor="start" fill="#111" font-style="italic">S</text>
<text x="387" y="662.7" font-size="10.3" text-anchor="start" fill="#111" font-style="italic">mt-Co1</text>
<text x="250.8" y="672.3" font-size="10.3" text-anchor="start" fill="#111">Mouse mtDNA 5,016-7,011</text>
<text x="-0.5" y="710.8" font-size="19.5" text-anchor="start" fill="#000" font-weight="bold">d</text>
<text x="50.8" y="722.3" font-size="10.3" text-anchor="end" fill="#111">5,649</text>
<text x="266.6" y="1026.9" font-size="9.4" text-anchor="end" fill="#111">5,686</text>
<g font-size="7.6">
<text y="722"><tspan class="sc" x="60.1 65.77">TC</tspan><tspan class="sa" x="71.14">A</tspan><tspan class="sc" x="77.12 82.79 88.46 94.13 99.8 105.48 111.15 116.82 122.49 128.16 133.84 139.51 145.18 150.85">TTTCTCCTTCTCCT</tspan><tspan class="sa" x="156.22">A</tspan><tspan class="sg" x="161.9">G</tspan><tspan class="sc" x="167.87">C</tspan><tspan class="sa" x="173.24">A</tspan><tspan class="sc" x="179.21 184.88">TC</tspan><tspan class="sa" x="190.26">A</tspan><tspan class="sc" x="196.23 201.9">TC</tspan><tspan class="sa" x="207.27 212.94">AA</tspan><tspan class="sc" x="218.92">T</tspan><tspan class="sa" x="224.29">A</tspan><tspan class="sg" x="229.96">G</tspan><tspan class="sc" x="235.93">T</tspan><tspan class="sa" x="241.3">A</tspan><tspan class="sg" x="246.98">G</tspan><tspan class="sa" x="252.65 258.32">AA</tspan></text>
<text y="730.26"><tspan class="sc" x="65.77">C</tspan><tspan class="sa" x="71.14">A</tspan><tspan class="sc" x="77.12 82.79 88.46 94.13 99.8 105.48 111.15 116.82 122.49 128.16 133.84 139.51 145.18 150.85">TTTCTCCTTCTCCT</tspan><tspan class="sa" x="156.22">A</tspan><tspan class="sg" x="161.9">G</tspan><tspan class="sc" x="167.87">C</tspan><tspan class="sa" x="173.24">A</tspan><tspan class="sc" x="179.21 184.88">TC</tspan><tspan class="sa" x="190.26">A</tspan><tspan class="sc" x="196.23 201.9">TC</tspan><tspan class="sa" x="207.27 212.94">AA</tspan><tspan class="sc" x="218.92">T</tspan><tspan class="sa" x="224.29">A</tspan><tspan class="sg" x="229.96">G</tspan><tspan class="sc" x="235.93">T</tspan><tspan class="sa" x="241.3">A</tspan><tspan class="sg" x="246.98">G</tspan><tspan class="sa" x="252.65 258.32">AA</tspan><tspan class="sg" x="263.99">G</tspan></text>
<text y="738.53"><tspan class="sa" x="71.14">A</tspan><tspan class="sc" x="77.12 82.79 88.46 94.13 99.8 105.48 111.15 116.82 122.49 128.16 133.84 139.51 145.18 150.85">TTTCTCCTTCTCCT</tspan><tspan class="sa" x="156.22">A</tspan><tspan class="sg" x="161.9">G</tspan><tspan class="sc" x="167.87">C</tspan><tspan class="sa" x="173.24">A</tspan><tspan class="sc" x="179.21 184.88">TC</tspan><tspan class="sa" x="190.26">A</tspan><tspan class="sc" x="196.23 201.9">TC</tspan><tspan class="sa" x="207.27 212.94">AA</tspan><tspan class="sc" x="218.92">T</tspan><tspan class="sa" x="224.29">A</tspan><tspan class="sg" x="229.96">G</tspan><tspan class="sc" x="235.93">T</tspan><tspan class="sa" x="241.3">A</tspan><tspan class="sg" x="246.98">G</tspan><tspan class="sa" x="252.65 258.32">AA</tspan><tspan class="sg" x="263.99">G</tspan><tspan class="sc" x="269.96">C</tspan></text>
<text y="746.79"><tspan class="sc" x="77.12 82.79 88.46 94.13 99.8 105.48 111.15 116.82 122.49 128.16 133.84 139.51 145.18 150.85">TTTCTCCTTCTCCT</tspan><tspan class="sa" x="156.22">A</tspan><tspan class="sg" x="161.9">G</tspan><tspan class="sc" x="167.87">C</tspan><tspan class="sa" x="173.24">A</tspan><tspan class="sc" x="179.21 184.88">TC</tspan><tspan class="sa" x="190.26">A</tspan><tspan class="sc" x="196.23 201.9">TC</tspan><tspan class="sa" x="207.27 212.94">AA</tspan><tspan class="sc" x="218.92">T</tspan><tspan class="sa" x="224.29">A</tspan><tspan class="sg" x="229.96">G</tspan><tspan class="sc" x="235.93">T</tspan><tspan class="sa" x="241.3">A</tspan><tspan class="sg" x="246.98">G</tspan><tspan class="sa" x="252.65 258.32">AA</tspan><tspan class="sg" x="263.99">G</tspan><tspan class="sc" x="269.96">C</tspan><tspan class="sa" x="275.34">A</tspan></text>
<text y="755.06"><tspan class="sc" x="82.79 88.46 94.13 99.8 105.48 111.15 116.82 122.49 128.16 133.84 139.51 145.18 150.85">TTCTCCTTCTCCT</tspan><tspan class="sa" x="156.22">A</tspan><tspan class="sg" x="161.9">G</tspan><tspan class="sc" x="167.87">C</tspan><tspan class="sa" x="173.24">A</tspan><tspan class="sc" x="179.21 184.88">TC</tspan><tspan class="sa" x="190.26">A</tspan><tspan class="sc" x="196.23 201.9">TC</tspan><tspan class="sa" x="207.27 212.94">AA</tspan><tspan class="sc" x="218.92">T</tspan><tspan class="sa" x="224.29">A</tspan><tspan class="sg" x="229.96">G</tspan><tspan class="sc" x="235.93">T</tspan><tspan class="sa" x="241.3">A</tspan><tspan class="sg" x="246.98">G</tspan><tspan class="sa" x="252.65 258.32">AA</tspan><tspan class="sg" x="263.99">G</tspan><tspan class="sc" x="269.96">C</tspan><tspan class="sa" x="275.34">A</tspan><tspan class="sg" x="281.01">G</tspan></text>
<text y="763.33"><tspan class="sc" x="88.46 94.13 99.8 105.48 111.15 116.82 122.49 128.16 133.84 139.51 145.18 150.85">TCTCCTTCTCCT</tspan><tspan class="sa" x="156.22">A</tspan><tspan class="sg" x="161.9">G</tspan><tspan class="sc" x="167.87">C</tspan><tspan class="sa" x="173.24">A</tspan><tspan class="sc" x="179.21 184.88">TC</tspan><tspan class="sa" x="190.26">A</tspan><tspan class="sc" x="196.23 201.9">TC</tspan><tspan class="sa" x="207.27 212.94">AA</tspan><tspan class="sc" x="218.92">T</tspan><tspan class="sa" x="224.29">A</tspan><tspan class="sg" x="229.96">G</tspan><tspan class="sc" x="235.93">T</tspan><tspan class="sa" x="241.3">A</tspan><tspan class="sg" x="246.98">G</tspan><tspan class="sa" x="252.65 258.32">AA</tspan><tspan class="sg" x="263.99">G</tspan><tspan class="sc" x="269.96">C</tspan><tspan class="sa" x="275.34">A</tspan><tspan class="sg" x="281.01 286.68">GG</tspan></text>
<text y="771.59"><tspan class="sc" x="94.13 99.8 105.48 111.15 116.82 122.49 128.16 133.84 139.51 145.18 150.85">CTCCTTCTCCT</tspan><tspan class="sa" x="156.22">A</tspan><tspan class="sg" x="161.9">G</tspan><tspan class="sc" x="167.87">C</tspan><tspan class="sa" x="173.24">A</tspan><tspan class="sc" x="179.21 184.88">TC</tspan><tspan class="sa" x="190.26">A</tspan><tspan class="sc" x="196.23 201.9">TC</tspan><tspan class="sa" x="207.27 212.94">AA</tspan><tspan class="sc" x="218.92">T</tspan><tspan class="sa" x="224.29">A</tspan><tspan class="sg" x="229.96">G</tspan><tspan class="sc" x="235.93">T</tspan><tspan class="sa" x="241.3">A</tspan><tspan class="sg" x="246.98">G</tspan><tspan class="sa" x="252.65 258.32">AA</tspan><tspan class="sg" x="263.99">G</tspan><tspan class="sc" x="269.96">C</tspan><tspan class="sa" x="275.34">A</tspan><tspan class="sg" x="281.01 286.68">GG</tspan><tspan class="sa" x="292.35">A</tspan></text>
<text y="779.86"><tspan class="sc" x="99.8 105.48 111.15 116.82 122.49 128.16 133.84 139.51 145.18 150.85">TCCTTCTCCT</tspan><tspan class="sa" x="156.22">A</tspan><tspan class="sg" x="161.9">G</tspan><tspan class="sc" x="167.87">C</tspan><tspan class="sa" x="173.24">A</tspan><tspan class="sc" x="179.21 184.88">TC</tspan><tspan class="sa" x="190.26">A</tspan><tspan class="sc" x="196.23 201.9">TC</tspan><tspan class="sa" x="207.27 212.94">AA</tspan><tspan class="sc" x="218.92">T</tspan><tspan class="sa" x="224.29">A</tspan><tspan class="sg" x="229.96">G</tspan><tspan class="sc" x="235.93">T</tspan><tspan class="sa" x="241.3">A</tspan><tspan class="sg" x="246.98">G</tspan><tspan class="sa" x="252.65 258.32">AA</tspan><tspan class="sg" x="263.99">G</tspan><tspan class="sc" x="269.96">C</tspan><tspan class="sa" x="275.34">A</tspan><tspan class="sg" x="281.01 286.68">GG</tspan><tspan class="sa" x="292.35">A</tspan><tspan class="sg" x="298.02">G</tspan></text>
<text y="788.12"><tspan class="sc" x="105.48 111.15 116.82 122.49 128.16 133.84 139.51 145.18 150.85">CCTTCTCCT</tspan><tspan class="sa" x="156.22">A</tspan><tspan class="sg" x="161.9">G</tspan><tspan class="sc" x="167.87">C</tspan><tspan class="sa" x="173.24">A</tspan><tspan class="sc" x="179.21 184.88">TC</tspan><tspan class="sa" x="190.26">A</tspan><tspan class="sc" x="196.23 201.9">TC</tspan><tspan class="sa" x="207.27 212.94">AA</tspan><tspan class="sc" x="218.92">T</tspan><tspan class="sa" x="224.29">A</tspan><tspan class="sg" x="229.96">G</tspan><tspan class="sc" x="235.93">T</tspan><tspan class="sa" x="241.3">A</tspan><tspan class="sg" x="246.98">G</tspan><tspan class="sa" x="252.65 258.32">AA</tspan><tspan class="sg" x="263.99">G</tspan><tspan class="sc" x="269.96">C</tspan><tspan class="sa" x="275.34">A</tspan><tspan class="sg" x="281.01 286.68">GG</tspan><tspan class="sa" x="292.35">A</tspan><tspan class="sg" x="298.02">G</tspan><tspan class="sc" x="304">C</tspan></text>
<text y="796.38"><tspan class="sc" x="111.15 116.82 122.49 128.16 133.84 139.51 145.18 150.85">CTTCTCCT</tspan><tspan class="sa" x="156.22">A</tspan><tspan class="sg" x="161.9">G</tspan><tspan class="sc" x="167.87">C</tspan><tspan class="sa" x="173.24">A</tspan><tspan class="sc" x="179.21 184.88">TC</tspan><tspan class="sa" x="190.26">A</tspan><tspan class="sc" x="196.23 201.9">TC</tspan><tspan class="sa" x="207.27 212.94">AA</tspan><tspan class="sc" x="218.92">T</tspan><tspan class="sa" x="224.29">A</tspan><tspan class="sg" x="229.96">G</tspan><tspan class="sc" x="235.93">T</tspan><tspan class="sa" x="241.3">A</tspan><tspan class="sg" x="246.98">G</tspan><tspan class="sa" x="252.65 258.32">AA</tspan><tspan class="sg" x="263.99">G</tspan><tspan class="sc" x="269.96">C</tspan><tspan class="sa" x="275.34">A</tspan><tspan class="sg" x="281.01 286.68">GG</tspan><tspan class="sa" x="292.35">A</tspan><tspan class="sg" x="298.02">G</tspan><tspan class="sc" x="304">C</tspan><tspan class="sa" x="309.37">A</tspan></text>
<text y="804.65"><tspan class="sc" x="116.82 122.49 128.16 133.84 139.51 145.18 150.85">TTCTCCT</tspan><tspan class="sa" x="156.22">A</tspan><tspan class="sg" x="161.9">G</tspan><tspan class="sc" x="167.87">C</tspan><tspan class="sa" x="173.24">A</tspan><tspan class="sc" x="179.21 184.88">TC</tspan><tspan class="sa" x="190.26">A</tspan><tspan class="sc" x="196.23 201.9">TC</tspan><tspan class="sa" x="207.27 212.94">AA</tspan><tspan class="sc" x="218.92">T</tspan><tspan class="sa" x="224.29">A</tspan><tspan class="sg" x="229.96">G</tspan><tspan class="sc" x="235.93">T</tspan><tspan class="sa" x="241.3">A</tspan><tspan class="sg" x="246.98">G</tspan><tspan class="sa" x="252.65 258.32">AA</tspan><tspan class="sg" x="263.99">G</tspan><tspan class="sc" x="269.96">C</tspan><tspan class="sa" x="275.34">A</tspan><tspan class="sg" x="281.01 286.68">GG</tspan><tspan class="sa" x="292.35">A</tspan><tspan class="sg" x="298.02">G</tspan><tspan class="sc" x="304">C</tspan><tspan class="sa" x="309.37">A</tspan><tspan class="sg" x="315.04">G</tspan></text>
<text y="812.91"><tspan class="sc" x="122.49 128.16 133.84 139.51 145.18 150.85">TCTCCT</tspan><tspan class="sa" x="156.22">A</tspan><tspan class="sg" x="161.9">G</tspan><tspan class="sc" x="167.87">C</tspan><tspan class="sa" x="173.24">A</tspan><tspan class="sc" x="179.21 184.88">TC</tspan><tspan class="sa" x="190.26">A</tspan><tspan class="sc" x="196.23 201.9">TC</tspan><tspan class="sa" x="207.27 212.94">AA</tspan><tspan class="sc" x="218.92">T</tspan><tspan class="sa" x="224.29">A</tspan><tspan class="sg" x="229.96">G</tspan><tspan class="sc" x="235.93">T</tspan><tspan class="sa" x="241.3">A</tspan><tspan class="sg" x="246.98">G</tspan><tspan class="sa" x="252.65 258.32">AA</tspan><tspan class="sg" x="263.99">G</tspan><tspan class="sc" x="269.96">C</tspan><tspan class="sa" x="275.34">A</tspan><tspan class="sg" x="281.01 286.68">GG</tspan><tspan class="sa" x="292.35">A</tspan><tspan class="sg" x="298.02">G</tspan><tspan class="sc" x="304">C</tspan><tspan class="sa" x="309.37">A</tspan><tspan class="sg" x="315.04 320.71">GG</tspan></text>
<text y="821.18"><tspan class="sc" x="128.16 133.84 139.51 145.18 150.85">CTCCT</tspan><tspan class="sa" x="156.22">A</tspan><tspan class="sg" x="161.9">G</tspan><tspan class="sc" x="167.87">C</tspan><tspan class="sa" x="173.24">A</tspan><tspan class="sc" x="179.21 184.88">TC</tspan><tspan class="sa" x="190.26">A</tspan><tspan class="sc" x="196.23 201.9">TC</tspan><tspan class="sa" x="207.27 212.94">AA</tspan><tspan class="sc" x="218.92">T</tspan><tspan class="sa" x="224.29">A</tspan><tspan class="sg" x="229.96">G</tspan><tspan class="sc" x="235.93">T</tspan><tspan class="sa" x="241.3">A</tspan><tspan class="sg" x="246.98">G</tspan><tspan class="sa" x="252.65 258.32">AA</tspan><tspan class="sg" x="263.99">G</tspan><tspan class="sc" x="269.96">C</tspan><tspan class="sa" x="275.34">A</tspan><tspan class="sg" x="281.01 286.68">GG</tspan><tspan class="sa" x="292.35">A</tspan><tspan class="sg" x="298.02">G</tspan><tspan class="sc" x="304">C</tspan><tspan class="sa" x="309.37">A</tspan><tspan class="sg" x="315.04 320.71">GG</tspan><tspan class="sa" x="326.38">A</tspan></text>
<text y="829.45"><tspan class="sc" x="133.84 139.51 145.18 150.85">TCCT</tspan><tspan class="sa" x="156.22">A</tspan><tspan class="sg" x="161.9">G</tspan><tspan class="sc" x="167.87">C</tspan><tspan class="sa" x="173.24">A</tspan><tspan class="sc" x="179.21 184.88">TC</tspan><tspan class="sa" x="190.26">A</tspan><tspan class="sc" x="196.23 201.9">TC</tspan><tspan class="sa" x="207.27 212.94">AA</tspan><tspan class="sc" x="218.92">T</tspan><tspan class="sa" x="224.29">A</tspan><tspan class="sg" x="229.96">G</tspan><tspan class="sc" x="235.93">T</tspan><tspan class="sa" x="241.3">A</tspan><tspan class="sg" x="246.98">G</tspan><tspan class="sa" x="252.65 258.32">AA</tspan><tspan class="sg" x="263.99">G</tspan><tspan class="sc" x="269.96">C</tspan><tspan class="sa" x="275.34">A</tspan><tspan class="sg" x="281.01 286.68">GG</tspan><tspan class="sa" x="292.35">A</tspan><tspan class="sg" x="298.02">G</tspan><tspan class="sc" x="304">C</tspan><tspan class="sa" x="309.37">A</tspan><tspan class="sg" x="315.04 320.71">GG</tspan><tspan class="sa" x="326.38 332.06">AA</tspan></text>
<text y="837.71"><tspan class="sc" x="139.51 145.18 150.85">CCT</tspan><tspan class="sa" x="156.22">A</tspan><tspan class="sg" x="161.9">G</tspan><tspan class="sc" x="167.87">C</tspan><tspan class="sa" x="173.24">A</tspan><tspan class="sc" x="179.21 184.88">TC</tspan><tspan class="sa" x="190.26">A</tspan><tspan class="sc" x="196.23 201.9">TC</tspan><tspan class="sa" x="207.27 212.94">AA</tspan><tspan class="sc" x="218.92">T</tspan><tspan class="sa" x="224.29">A</tspan><tspan class="sg" x="229.96">G</tspan><tspan class="sc" x="235.93">T</tspan><tspan class="sa" x="241.3">A</tspan><tspan class="sg" x="246.98">G</tspan><tspan class="sa" x="252.65 258.32">AA</tspan><tspan class="sg" x="263.99">G</tspan><tspan class="sc" x="269.96">C</tspan><tspan class="sa" x="275.34">A</tspan><tspan class="sg" x="281.01 286.68">GG</tspan><tspan class="sa" x="292.35">A</tspan><tspan class="sg" x="298.02">G</tspan><tspan class="sc" x="304">C</tspan><tspan class="sa" x="309.37">A</tspan><tspan class="sg" x="315.04 320.71">GG</tspan><tspan class="sa" x="326.38 332.06">AA</tspan><tspan class="sc" x="338.03">C</tspan></text>
<text y="845.98"><tspan class="sc" x="145.18 150.85">CT</tspan><tspan class="sa" x="156.22">A</tspan><tspan class="sg" x="161.9">G</tspan><tspan class="sc" x="167.87">C</tspan><tspan class="sa" x="173.24">A</tspan><tspan class="sc" x="179.21 184.88">TC</tspan><tspan class="sa" x="190.26">A</tspan><tspan class="sc" x="196.23 201.9">TC</tspan><tspan class="sa" x="207.27 212.94">AA</tspan><tspan class="sc" x="218.92">T</tspan><tspan class="sa" x="224.29">A</tspan><tspan class="sg" x="229.96">G</tspan><tspan class="sc" x="235.93">T</tspan><tspan class="sa" x="241.3">A</tspan><tspan class="sg" x="246.98">G</tspan><tspan class="sa" x="252.65 258.32">AA</tspan><tspan class="sg" x="263.99">G</tspan><tspan class="sc" x="269.96">C</tspan><tspan class="sa" x="275.34">A</tspan><tspan class="sg" x="281.01 286.68">GG</tspan><tspan class="sa" x="292.35">A</tspan><tspan class="sg" x="298.02">G</tspan><tspan class="sc" x="304">C</tspan><tspan class="sa" x="309.37">A</tspan><tspan class="sg" x="315.04 320.71">GG</tspan><tspan class="sa" x="326.38 332.06">AA</tspan><tspan class="sc" x="338.03">C</tspan><tspan class="sa" x="343.4">A</tspan></text>
<text y="854.24"><tspan class="sc" x="150.85">T</tspan><tspan class="sa" x="156.22">A</tspan><tspan class="sg" x="161.9">G</tspan><tspan class="sc" x="167.87">C</tspan><tspan class="sa" x="173.24">A</tspan><tspan class="sc" x="179.21 184.88">TC</tspan><tspan class="sa" x="190.26">A</tspan><tspan class="sc" x="196.23 201.9">TC</tspan><tspan class="sa" x="207.27 212.94">AA</tspan><tspan class="sc" x="218.92">T</tspan><tspan class="sa" x="224.29">A</tspan><tspan class="sg" x="229.96">G</tspan><tspan class="sc" x="235.93">T</tspan><tspan class="sa" x="241.3">A</tspan><tspan class="sg" x="246.98">G</tspan><tspan class="sa" x="252.65 258.32">AA</tspan><tspan class="sg" x="263.99">G</tspan><tspan class="sc" x="269.96">C</tspan><tspan class="sa" x="275.34">A</tspan><tspan class="sg" x="281.01 286.68">GG</tspan><tspan class="sa" x="292.35">A</tspan><tspan class="sg" x="298.02">G</tspan><tspan class="sc" x="304">C</tspan><tspan class="sa" x="309.37">A</tspan><tspan class="sg" x="315.04 320.71">GG</tspan><tspan class="sa" x="326.38 332.06">AA</tspan><tspan class="sc" x="338.03">C</tspan><tspan class="sa" x="343.4">A</tspan><tspan class="sg" x="349.07">G</tspan></text>
<text y="862.5"><tspan class="sa" x="156.22">A</tspan><tspan class="sg" x="161.9">G</tspan><tspan class="sc" x="167.87">C</tspan><tspan class="sa" x="173.24">A</tspan><tspan class="sc" x="179.21 184.88">TC</tspan><tspan class="sa" x="190.26">A</tspan><tspan class="sc" x="196.23 201.9">TC</tspan><tspan class="sa" x="207.27 212.94">AA</tspan><tspan class="sc" x="218.92">T</tspan><tspan class="sa" x="224.29">A</tspan><tspan class="sg" x="229.96">G</tspan><tspan class="sc" x="235.93">T</tspan><tspan class="sa" x="241.3">A</tspan><tspan class="sg" x="246.98">G</tspan><tspan class="sa" x="252.65 258.32">AA</tspan><tspan class="sg" x="263.99">G</tspan><tspan class="sc" x="269.96">C</tspan><tspan class="sa" x="275.34">A</tspan><tspan class="sg" x="281.01 286.68">GG</tspan><tspan class="sa" x="292.35">A</tspan><tspan class="sg" x="298.02">G</tspan><tspan class="sc" x="304">C</tspan><tspan class="sa" x="309.37">A</tspan><tspan class="sg" x="315.04 320.71">GG</tspan><tspan class="sa" x="326.38 332.06">AA</tspan><tspan class="sc" x="338.03">C</tspan><tspan class="sa" x="343.4">A</tspan><tspan class="sg" x="349.07 354.74">GG</tspan></text>
<text y="870.77"><tspan class="sg" x="161.9">G</tspan><tspan class="sc" x="167.87">C</tspan><tspan class="sa" x="173.24">A</tspan><tspan class="sc" x="179.21 184.88">TC</tspan><tspan class="sa" x="190.26">A</tspan><tspan class="sc" x="196.23 201.9">TC</tspan><tspan class="sa" x="207.27 212.94">AA</tspan><tspan class="sc" x="218.92">T</tspan><tspan class="sa" x="224.29">A</tspan><tspan class="sg" x="229.96">G</tspan><tspan class="sc" x="235.93">T</tspan><tspan class="sa" x="241.3">A</tspan><tspan class="sg" x="246.98">G</tspan><tspan class="sa" x="252.65 258.32">AA</tspan><tspan class="sg" x="263.99">G</tspan><tspan class="sc" x="269.96">C</tspan><tspan class="sa" x="275.34">A</tspan><tspan class="sg" x="281.01 286.68">GG</tspan><tspan class="sa" x="292.35">A</tspan><tspan class="sg" x="298.02">G</tspan><tspan class="sc" x="304">C</tspan><tspan class="sa" x="309.37">A</tspan><tspan class="sg" x="315.04 320.71">GG</tspan><tspan class="sa" x="326.38 332.06">AA</tspan><tspan class="sc" x="338.03">C</tspan><tspan class="sa" x="343.4">A</tspan><tspan class="sg" x="349.07 354.74">GG</tspan><tspan class="sa" x="360.42">A</tspan></text>
<text y="879.04"><tspan class="sc" x="167.87">C</tspan><tspan class="sa" x="173.24">A</tspan><tspan class="sc" x="179.21 184.88">TC</tspan><tspan class="sa" x="190.26">A</tspan><tspan class="sc" x="196.23 201.9">TC</tspan><tspan class="sa" x="207.27 212.94">AA</tspan><tspan class="sc" x="218.92">T</tspan><tspan class="sa" x="224.29">A</tspan><tspan class="sg" x="229.96">G</tspan><tspan class="sc" x="235.93">T</tspan><tspan class="sa" x="241.3">A</tspan><tspan class="sg" x="246.98">G</tspan><tspan class="sa" x="252.65 258.32">AA</tspan><tspan class="sg" x="263.99">G</tspan><tspan class="sc" x="269.96">C</tspan><tspan class="sa" x="275.34">A</tspan><tspan class="sg" x="281.01 286.68">GG</tspan><tspan class="sa" x="292.35">A</tspan><tspan class="sg" x="298.02">G</tspan><tspan class="sc" x="304">C</tspan><tspan class="sa" x="309.37">A</tspan><tspan class="sg" x="315.04 320.71">GG</tspan><tspan class="sa" x="326.38 332.06">AA</tspan><tspan class="sc" x="338.03">C</tspan><tspan class="sa" x="343.4">A</tspan><tspan class="sg" x="349.07 354.74">GG</tspan><tspan class="sa" x="360.42">A</tspan><tspan class="sc" x="366.39">T</tspan></text>
<text y="887.3"><tspan class="sa" x="173.24">A</tspan><tspan class="sc" x="179.21 184.88">TC</tspan><tspan class="sa" x="190.26">A</tspan><tspan class="sc" x="196.23 201.9">TC</tspan><tspan class="sa" x="207.27 212.94">AA</tspan><tspan class="sc" x="218.92">T</tspan><tspan class="sa" x="224.29">A</tspan><tspan class="sg" x="229.96">G</tspan><tspan class="sc" x="235.93">T</tspan><tspan class="sa" x="241.3">A</tspan><tspan class="sg" x="246.98">G</tspan><tspan class="sa" x="252.65 258.32">AA</tspan><tspan class="sg" x="263.99">G</tspan><tspan class="sc" x="269.96">C</tspan><tspan class="sa" x="275.34">A</tspan><tspan class="sg" x="281.01 286.68">GG</tspan><tspan class="sa" x="292.35">A</tspan><tspan class="sg" x="298.02">G</tspan><tspan class="sc" x="304">C</tspan><tspan class="sa" x="309.37">A</tspan><tspan class="sg" x="315.04 320.71">GG</tspan><tspan class="sa" x="326.38 332.06">AA</tspan><tspan class="sc" x="338.03">C</tspan><tspan class="sa" x="343.4">A</tspan><tspan class="sg" x="349.07 354.74">GG</tspan><tspan class="sa" x="360.42">A</tspan><tspan class="sc" x="366.39">T</tspan><tspan class="sg" x="371.76">G</tspan></text>
<text y="895.57"><tspan class="sc" x="179.21 184.88">TC</tspan><tspan class="sa" x="190.26">A</tspan><tspan class="sc" x="196.23 201.9">TC</tspan><tspan class="sa" x="207.27 212.94">AA</tspan><tspan class="sc" x="218.92">T</tspan><tspan class="sa" x="224.29">A</tspan><tspan class="sg" x="229.96">G</tspan><tspan class="sc" x="235.93">T</tspan><tspan class="sa" x="241.3">A</tspan><tspan class="sg" x="246.98">G</tspan><tspan class="sa" x="252.65 258.32">AA</tspan><tspan class="sg" x="263.99">G</tspan><tspan class="sc" x="269.96">C</tspan><tspan class="sa" x="275.34">A</tspan><tspan class="sg" x="281.01 286.68">GG</tspan><tspan class="sa" x="292.35">A</tspan><tspan class="sg" x="298.02">G</tspan><tspan class="sc" x="304">C</tspan><tspan class="sa" x="309.37">A</tspan><tspan class="sg" x="315.04 320.71">GG</tspan><tspan class="sa" x="326.38 332.06">AA</tspan><tspan class="sc" x="338.03">C</tspan><tspan class="sa" x="343.4">A</tspan><tspan class="sg" x="349.07 354.74">GG</tspan><tspan class="sa" x="360.42">A</tspan><tspan class="sc" x="366.39">T</tspan><tspan class="sg" x="371.76">G</tspan><tspan class="sa" x="377.43">A</tspan></text>
<text y="903.83"><tspan class="sc" x="184.88">C</tspan><tspan class="sa" x="190.26">A</tspan><tspan class="sc" x="196.23 201.9">TC</tspan><tspan class="sa" x="207.27 212.94">AA</tspan><tspan class="sc" x="218.92">T</tspan><tspan class="sa" x="224.29">A</tspan><tspan class="sg" x="229.96">G</tspan><tspan class="sc" x="235.93">T</tspan><tspan class="sa" x="241.3">A</tspan><tspan class="sg" x="246.98">G</tspan><tspan class="sa" x="252.65 258.32">AA</tspan><tspan class="sg" x="263.99">G</tspan><tspan class="sc" x="269.96">C</tspan><tspan class="sa" x="275.34">A</tspan><tspan class="sg" x="281.01 286.68">GG</tspan><tspan class="sa" x="292.35">A</tspan><tspan class="sg" x="298.02">G</tspan><tspan class="sc" x="304">C</tspan><tspan class="sa" x="309.37">A</tspan><tspan class="sg" x="315.04 320.71">GG</tspan><tspan class="sa" x="326.38 332.06">AA</tspan><tspan class="sc" x="338.03">C</tspan><tspan class="sa" x="343.4">A</tspan><tspan class="sg" x="349.07 354.74">GG</tspan><tspan class="sa" x="360.42">A</tspan><tspan class="sc" x="366.39">T</tspan><tspan class="sg" x="371.76">G</tspan><tspan class="sa" x="377.43 383.1">AA</tspan></text>
<text y="912.1"><tspan class="sa" x="190.26">A</tspan><tspan class="sc" x="196.23 201.9">TC</tspan><tspan class="sa" x="207.27 212.94">AA</tspan><tspan class="sc" x="218.92">T</tspan><tspan class="sa" x="224.29">A</tspan><tspan class="sg" x="229.96">G</tspan><tspan class="sc" x="235.93">T</tspan><tspan class="sa" x="241.3">A</tspan><tspan class="sg" x="246.98">G</tspan><tspan class="sa" x="252.65 258.32">AA</tspan><tspan class="sg" x="263.99">G</tspan><tspan class="sc" x="269.96">C</tspan><tspan class="sa" x="275.34">A</tspan><tspan class="sg" x="281.01 286.68">GG</tspan><tspan class="sa" x="292.35">A</tspan><tspan class="sg" x="298.02">G</tspan><tspan class="sc" x="304">C</tspan><tspan class="sa" x="309.37">A</tspan><tspan class="sg" x="315.04 320.71">GG</tspan><tspan class="sa" x="326.38 332.06">AA</tspan><tspan class="sc" x="338.03">C</tspan><tspan class="sa" x="343.4">A</tspan><tspan class="sg" x="349.07 354.74">GG</tspan><tspan class="sa" x="360.42">A</tspan><tspan class="sc" x="366.39">T</tspan><tspan class="sg" x="371.76">G</tspan><tspan class="sa" x="377.43 383.1">AA</tspan><tspan class="sc" x="389.08">C</tspan></text>
<text y="920.36"><tspan class="sc" x="196.23 201.9">TC</tspan><tspan class="sa" x="207.27 212.94">AA</tspan><tspan class="sc" x="218.92">T</tspan><tspan class="sa" x="224.29">A</tspan><tspan class="sg" x="229.96">G</tspan><tspan class="sc" x="235.93">T</tspan><tspan class="sa" x="241.3">A</tspan><tspan class="sg" x="246.98">G</tspan><tspan class="sa" x="252.65 258.32">AA</tspan><tspan class="sg" x="263.99">G</tspan><tspan class="sc" x="269.96">C</tspan><tspan class="sa" x="275.34">A</tspan><tspan class="sg" x="281.01 286.68">GG</tspan><tspan class="sa" x="292.35">A</tspan><tspan class="sg" x="298.02">G</tspan><tspan class="sc" x="304">C</tspan><tspan class="sa" x="309.37">A</tspan><tspan class="sg" x="315.04 320.71">GG</tspan><tspan class="sa" x="326.38 332.06">AA</tspan><tspan class="sc" x="338.03">C</tspan><tspan class="sa" x="343.4">A</tspan><tspan class="sg" x="349.07 354.74">GG</tspan><tspan class="sa" x="360.42">A</tspan><tspan class="sc" x="366.39">T</tspan><tspan class="sg" x="371.76">G</tspan><tspan class="sa" x="377.43 383.1">AA</tspan><tspan class="sc" x="389.08">C</tspan><tspan class="sa" x="394.45">A</tspan></text>
<text y="928.62"><tspan class="sc" x="201.9">C</tspan><tspan class="sa" x="207.27 212.94">AA</tspan><tspan class="sc" x="218.92">T</tspan><tspan class="sa" x="224.29">A</tspan><tspan class="sg" x="229.96">G</tspan><tspan class="sc" x="235.93">T</tspan><tspan class="sa" x="241.3">A</tspan><tspan class="sg" x="246.98">G</tspan><tspan class="sa" x="252.65 258.32">AA</tspan><tspan class="sg" x="263.99">G</tspan><tspan class="sc" x="269.96">C</tspan><tspan class="sa" x="275.34">A</tspan><tspan class="sg" x="281.01 286.68">GG</tspan><tspan class="sa" x="292.35">A</tspan><tspan class="sg" x="298.02">G</tspan><tspan class="sc" x="304">C</tspan><tspan class="sa" x="309.37">A</tspan><tspan class="sg" x="315.04 320.71">GG</tspan><tspan class="sa" x="326.38 332.06">AA</tspan><tspan class="sc" x="338.03">C</tspan><tspan class="sa" x="343.4">A</tspan><tspan class="sg" x="349.07 354.74">GG</tspan><tspan class="sa" x="360.42">A</tspan><tspan class="sc" x="366.39">T</tspan><tspan class="sg" x="371.76">G</tspan><tspan class="sa" x="377.43 383.1">AA</tspan><tspan class="sc" x="389.08">C</tspan><tspan class="sa" x="394.45">A</tspan><tspan class="sg" x="400.12">G</tspan></text>
<text y="936.89"><tspan class="sa" x="207.27 212.94">AA</tspan><tspan class="sc" x="218.92">T</tspan><tspan class="sa" x="224.29">A</tspan><tspan class="sg" x="229.96">G</tspan><tspan class="sc" x="235.93">T</tspan><tspan class="sa" x="241.3">A</tspan><tspan class="sg" x="246.98">G</tspan><tspan class="sa" x="252.65 258.32">AA</tspan><tspan class="sg" x="263.99">G</tspan><tspan class="sc" x="269.96">C</tspan><tspan class="sa" x="275.34">A</tspan><tspan class="sg" x="281.01 286.68">GG</tspan><tspan class="sa" x="292.35">A</tspan><tspan class="sg" x="298.02">G</tspan><tspan class="sc" x="304">C</tspan><tspan class="sa" x="309.37">A</tspan><tspan class="sg" x="315.04 320.71">GG</tspan><tspan class="sa" x="326.38 332.06">AA</tspan><tspan class="sc" x="338.03">C</tspan><tspan class="sa" x="343.4">A</tspan><tspan class="sg" x="349.07 354.74">GG</tspan><tspan class="sa" x="360.42">A</tspan><tspan class="sc" x="366.39">T</tspan><tspan class="sg" x="371.76">G</tspan><tspan class="sa" x="377.43 383.1">AA</tspan><tspan class="sc" x="389.08">C</tspan><tspan class="sa" x="394.45">A</tspan><tspan class="sg" x="400.12">G</tspan><tspan class="sc" x="406.09">T</tspan></text>
<text y="945.15"><tspan class="sa" x="212.94">A</tspan><tspan class="sc" x="218.92">T</tspan><tspan class="sa" x="224.29">A</tspan><tspan class="sg" x="229.96">G</tspan><tspan class="sc" x="235.93">T</tspan><tspan class="sa" x="241.3">A</tspan><tspan class="sg" x="246.98">G</tspan><tspan class="sa" x="252.65 258.32">AA</tspan><tspan class="sg" x="263.99">G</tspan><tspan class="sc" x="269.96">C</tspan><tspan class="sa" x="275.34">A</tspan><tspan class="sg" x="281.01 286.68">GG</tspan><tspan class="sa" x="292.35">A</tspan><tspan class="sg" x="298.02">G</tspan><tspan class="sc" x="304">C</tspan><tspan class="sa" x="309.37">A</tspan><tspan class="sg" x="315.04 320.71">GG</tspan><tspan class="sa" x="326.38 332.06">AA</tspan><tspan class="sc" x="338.03">C</tspan><tspan class="sa" x="343.4">A</tspan><tspan class="sg" x="349.07 354.74">GG</tspan><tspan class="sa" x="360.42">A</tspan><tspan class="sc" x="366.39">T</tspan><tspan class="sg" x="371.76">G</tspan><tspan class="sa" x="377.43 383.1">AA</tspan><tspan class="sc" x="389.08">C</tspan><tspan class="sa" x="394.45">A</tspan><tspan class="sg" x="400.12">G</tspan><tspan class="sc" x="406.09 411.76">TC</tspan></text>
<text y="953.42"><tspan class="sc" x="218.92">T</tspan><tspan class="sa" x="224.29">A</tspan><tspan class="sg" x="229.96">G</tspan><tspan class="sc" x="235.93">T</tspan><tspan class="sa" x="241.3">A</tspan><tspan class="sg" x="246.98">G</tspan><tspan class="sa" x="252.65 258.32">AA</tspan><tspan class="sg" x="263.99">G</tspan><tspan class="sc" x="269.96">C</tspan><tspan class="sa" x="275.34">A</tspan><tspan class="sg" x="281.01 286.68">GG</tspan><tspan class="sa" x="292.35">A</tspan><tspan class="sg" x="298.02">G</tspan><tspan class="sc" x="304">C</tspan><tspan class="sa" x="309.37">A</tspan><tspan class="sg" x="315.04 320.71">GG</tspan><tspan class="sa" x="326.38 332.06">AA</tspan><tspan class="sc" x="338.03">C</tspan><tspan class="sa" x="343.4">A</tspan><tspan class="sg" x="349.07 354.74">GG</tspan><tspan class="sa" x="360.42">A</tspan><tspan class="sc" x="366.39">T</tspan><tspan class="sg" x="371.76">G</tspan><tspan class="sa" x="377.43 383.1">AA</tspan><tspan class="sc" x="389.08">C</tspan><tspan class="sa" x="394.45">A</tspan><tspan class="sg" x="400.12">G</tspan><tspan class="sc" x="406.09 411.76 417.44">TCT</tspan></text>
<text y="961.68"><tspan class="sa" x="224.29">A</tspan><tspan class="sg" x="229.96">G</tspan><tspan class="sc" x="235.93">T</tspan><tspan class="sa" x="241.3">A</tspan><tspan class="sg" x="246.98">G</tspan><tspan class="sa" x="252.65 258.32">AA</tspan><tspan class="sg" x="263.99">G</tspan><tspan class="sc" x="269.96">C</tspan><tspan class="sa" x="275.34">A</tspan><tspan class="sg" x="281.01 286.68">GG</tspan><tspan class="sa" x="292.35">A</tspan><tspan class="sg" x="298.02">G</tspan><tspan class="sc" x="304">C</tspan><tspan class="sa" x="309.37">A</tspan><tspan class="sg" x="315.04 320.71">GG</tspan><tspan class="sa" x="326.38 332.06">AA</tspan><tspan class="sc" x="338.03">C</tspan><tspan class="sa" x="343.4">A</tspan><tspan class="sg" x="349.07 354.74">GG</tspan><tspan class="sa" x="360.42">A</tspan><tspan class="sc" x="366.39">T</tspan><tspan class="sg" x="371.76">G</tspan><tspan class="sa" x="377.43 383.1">AA</tspan><tspan class="sc" x="389.08">C</tspan><tspan class="sa" x="394.45">A</tspan><tspan class="sg" x="400.12">G</tspan><tspan class="sc" x="406.09 411.76 417.44">TCT</tspan><tspan class="sa" x="422.81">A</tspan></text>
<text y="969.95"><tspan class="sg" x="229.96">G</tspan><tspan class="sc" x="235.93">T</tspan><tspan class="sa" x="241.3">A</tspan><tspan class="sg" x="246.98">G</tspan><tspan class="sa" x="252.65 258.32">AA</tspan><tspan class="sg" x="263.99">G</tspan><tspan class="sc" x="269.96">C</tspan><tspan class="sa" x="275.34">A</tspan><tspan class="sg" x="281.01 286.68">GG</tspan><tspan class="sa" x="292.35">A</tspan><tspan class="sg" x="298.02">G</tspan><tspan class="sc" x="304">C</tspan><tspan class="sa" x="309.37">A</tspan><tspan class="sg" x="315.04 320.71">GG</tspan><tspan class="sa" x="326.38 332.06">AA</tspan><tspan class="sc" x="338.03">C</tspan><tspan class="sa" x="343.4">A</tspan><tspan class="sg" x="349.07 354.74">GG</tspan><tspan class="sa" x="360.42">A</tspan><tspan class="sc" x="366.39">T</tspan><tspan class="sg" x="371.76">G</tspan><tspan class="sa" x="377.43 383.1">AA</tspan><tspan class="sc" x="389.08">C</tspan><tspan class="sa" x="394.45">A</tspan><tspan class="sg" x="400.12">G</tspan><tspan class="sc" x="406.09 411.76 417.44">TCT</tspan><tspan class="sa" x="422.81">A</tspan><tspan class="sc" x="428.78">C</tspan></text>
<text y="978.22"><tspan class="sc" x="235.93">T</tspan><tspan class="sa" x="241.3">A</tspan><tspan class="sg" x="246.98">G</tspan><tspan class="sa" x="252.65 258.32">AA</tspan><tspan class="sg" x="263.99">G</tspan><tspan class="sc" x="269.96">C</tspan><tspan class="sa" x="275.34">A</tspan><tspan class="sg" x="281.01 286.68">GG</tspan><tspan class="sa" x="292.35">A</tspan><tspan class="sg" x="298.02">G</tspan><tspan class="sc" x="304">C</tspan><tspan class="sa" x="309.37">A</tspan><tspan class="sg" x="315.04 320.71">GG</tspan><tspan class="sa" x="326.38 332.06">AA</tspan><tspan class="sc" x="338.03">C</tspan><tspan class="sa" x="343.4">A</tspan><tspan class="sg" x="349.07 354.74">GG</tspan><tspan class="sa" x="360.42">A</tspan><tspan class="sc" x="366.39">T</tspan><tspan class="sg" x="371.76">G</tspan><tspan class="sa" x="377.43 383.1">AA</tspan><tspan class="sc" x="389.08">C</tspan><tspan class="sa" x="394.45">A</tspan><tspan class="sg" x="400.12">G</tspan><tspan class="sc" x="406.09 411.76 417.44">TCT</tspan><tspan class="sa" x="422.81">A</tspan><tspan class="sc" x="428.78 434.45">CC</tspan></text>
<text y="986.48"><tspan class="sa" x="241.3">A</tspan><tspan class="sg" x="246.98">G</tspan><tspan class="sa" x="252.65 258.32">AA</tspan><tspan class="sg" x="263.99">G</tspan><tspan class="sc" x="269.96">C</tspan><tspan class="sa" x="275.34">A</tspan><tspan class="sg" x="281.01 286.68">GG</tspan><tspan class="sa" x="292.35">A</tspan><tspan class="sg" x="298.02">G</tspan><tspan class="sc" x="304">C</tspan><tspan class="sa" x="309.37">A</tspan><tspan class="sg" x="315.04 320.71">GG</tspan><tspan class="sa" x="326.38 332.06">AA</tspan><tspan class="sc" x="338.03">C</tspan><tspan class="sa" x="343.4">A</tspan><tspan class="sg" x="349.07 354.74">GG</tspan><tspan class="sa" x="360.42">A</tspan><tspan class="sc" x="366.39">T</tspan><tspan class="sg" x="371.76">G</tspan><tspan class="sa" x="377.43 383.1">AA</tspan><tspan class="sc" x="389.08">C</tspan><tspan class="sa" x="394.45">A</tspan><tspan class="sg" x="400.12">G</tspan><tspan class="sc" x="406.09 411.76 417.44">TCT</tspan><tspan class="sa" x="422.81">A</tspan><tspan class="sc" x="428.78 434.45 440.12">CCC</tspan></text>
<text y="994.75"><tspan class="sg" x="246.98">G</tspan><tspan class="sa" x="252.65 258.32">AA</tspan><tspan class="sg" x="263.99">G</tspan><tspan class="sc" x="269.96">C</tspan><tspan class="sa" x="275.34">A</tspan><tspan class="sg" x="281.01 286.68">GG</tspan><tspan class="sa" x="292.35">A</tspan><tspan class="sg" x="298.02">G</tspan><tspan class="sc" x="304">C</tspan><tspan class="sa" x="309.37">A</tspan><tspan class="sg" x="315.04 320.71">GG</tspan><tspan class="sa" x="326.38 332.06">AA</tspan><tspan class="sc" x="338.03">C</tspan><tspan class="sa" x="343.4">A</tspan><tspan class="sg" x="349.07 354.74">GG</tspan><tspan class="sa" x="360.42">A</tspan><tspan class="sc" x="366.39">T</tspan><tspan class="sg" x="371.76">G</tspan><tspan class="sa" x="377.43 383.1">AA</tspan><tspan class="sc" x="389.08">C</tspan><tspan class="sa" x="394.45">A</tspan><tspan class="sg" x="400.12">G</tspan><tspan class="sc" x="406.09 411.76 417.44">TCT</tspan><tspan class="sa" x="422.81">A</tspan><tspan class="sc" x="428.78 434.45 440.12">CCC</tspan><tspan class="sa" x="445.5">A</tspan></text>
<text y="1003.01"><tspan class="sa" x="252.65 258.32">AA</tspan><tspan class="sg" x="263.99">G</tspan><tspan class="sc" x="269.96">C</tspan><tspan class="sa" x="275.34">A</tspan><tspan class="sg" x="281.01 286.68">GG</tspan><tspan class="sa" x="292.35">A</tspan><tspan class="sg" x="298.02">G</tspan><tspan class="sc" x="304">C</tspan><tspan class="sa" x="309.37">A</tspan><tspan class="sg" x="315.04 320.71">GG</tspan><tspan class="sa" x="326.38 332.06">AA</tspan><tspan class="sc" x="338.03">C</tspan><tspan class="sa" x="343.4">A</tspan><tspan class="sg" x="349.07 354.74">GG</tspan><tspan class="sa" x="360.42">A</tspan><tspan class="sc" x="366.39">T</tspan><tspan class="sg" x="371.76">G</tspan><tspan class="sa" x="377.43 383.1">AA</tspan><tspan class="sc" x="389.08">C</tspan><tspan class="sa" x="394.45">A</tspan><tspan class="sg" x="400.12">G</tspan><tspan class="sc" x="406.09 411.76 417.44">TCT</tspan><tspan class="sa" x="422.81">A</tspan><tspan class="sc" x="428.78 434.45 440.12">CCC</tspan><tspan class="sa" x="445.5">A</tspan><tspan class="sc" x="451.47">C</tspan></text>
<text y="1011.28"><tspan class="sa" x="258.32">A</tspan><tspan class="sg" x="263.99">G</tspan><tspan class="sc" x="269.96">C</tspan><tspan class="sa" x="275.34">A</tspan><tspan class="sg" x="281.01 286.68">GG</tspan><tspan class="sa" x="292.35">A</tspan><tspan class="sg" x="298.02">G</tspan><tspan class="sc" x="304">C</tspan><tspan class="sa" x="309.37">A</tspan><tspan class="sg" x="315.04 320.71">GG</tspan><tspan class="sa" x="326.38 332.06">AA</tspan><tspan class="sc" x="338.03">C</tspan><tspan class="sa" x="343.4">A</tspan><tspan class="sg" x="349.07 354.74">GG</tspan><tspan class="sa" x="360.42">A</tspan><tspan class="sc" x="366.39">T</tspan><tspan class="sg" x="371.76">G</tspan><tspan class="sa" x="377.43 383.1">AA</tspan><tspan class="sc" x="389.08">C</tspan><tspan class="sa" x="394.45">A</tspan><tspan class="sg" x="400.12">G</tspan><tspan class="sc" x="406.09 411.76 417.44">TCT</tspan><tspan class="sa" x="422.81">A</tspan><tspan class="sc" x="428.78 434.45 440.12">CCC</tspan><tspan class="sa" x="445.5">A</tspan><tspan class="sc" x="451.47 457.14">CC</tspan></text>
<text y="1019.54"><tspan class="sg" x="263.99">G</tspan><tspan class="sc" x="269.96">C</tspan><tspan class="sa" x="275.34">A</tspan><tspan class="sg" x="281.01 286.68">GG</tspan><tspan class="sa" x="292.35">A</tspan><tspan class="sg" x="298.02">G</tspan><tspan class="sc" x="304">C</tspan><tspan class="sa" x="309.37">A</tspan><tspan class="sg" x="315.04 320.71">GG</tspan><tspan class="sa" x="326.38 332.06">AA</tspan><tspan class="sc" x="338.03">C</tspan><tspan class="sa" x="343.4">A</tspan><tspan class="sg" x="349.07 354.74">GG</tspan><tspan class="sa" x="360.42">A</tspan><tspan class="sc" x="366.39">T</tspan><tspan class="sg" x="371.76">G</tspan><tspan class="sa" x="377.43 383.1">AA</tspan><tspan class="sc" x="389.08">C</tspan><tspan class="sa" x="394.45">A</tspan><tspan class="sg" x="400.12">G</tspan><tspan class="sc" x="406.09 411.76 417.44">TCT</tspan><tspan class="sa" x="422.81">A</tspan><tspan class="sc" x="428.78 434.45 440.12">CCC</tspan><tspan class="sa" x="445.5">A</tspan><tspan class="sc" x="451.47 457.14 462.81">CCT</tspan></text>
<text y="1027.81"><tspan class="sc" x="269.96">C</tspan><tspan class="sa" x="275.34">A</tspan><tspan class="sg" x="281.01 286.68">GG</tspan><tspan class="sa" x="292.35">A</tspan><tspan class="sg" x="298.02">G</tspan><tspan class="sc" x="304">C</tspan><tspan class="sa" x="309.37">A</tspan><tspan class="sg" x="315.04 320.71">GG</tspan><tspan class="sa" x="326.38 332.06">AA</tspan><tspan class="sc" x="338.03">C</tspan><tspan class="sa" x="343.4">A</tspan><tspan class="sg" x="349.07 354.74">GG</tspan><tspan class="sa" x="360.42">A</tspan><tspan class="sc" x="366.39">T</tspan><tspan class="sg" x="371.76">G</tspan><tspan class="sa" x="377.43 383.1">AA</tspan><tspan class="sc" x="389.08">C</tspan><tspan class="sa" x="394.45">A</tspan><tspan class="sg" x="400.12">G</tspan><tspan class="sc" x="406.09 411.76 417.44">TCT</tspan><tspan class="sa" x="422.81">A</tspan><tspan class="sc" x="428.78 434.45 440.12">CCC</tspan><tspan class="sa" x="445.5">A</tspan><tspan class="sc" x="451.47 457.14 462.81 468.48">CCTC</tspan></text>
</g>
<path d="M492.3 712.9H522.1V721.19H544.6V729.49H543.6V737.78H528.2V746.08H529.9V754.37H546.6V762.67H554.8V770.96H565V779.26H553.8V787.55H552.4V795.85H552.4V804.14H570.5V812.44H569.6V820.73H572.8V829.03H572.8V837.32H581.6V845.62H603.2V853.91H614.3V862.21H569.6V870.5H578.4V878.79H589.5V887.09H598.8V895.38H597.7V903.68H614.6V911.97H617.8V920.27H658.5V928.56H659.5V936.86H661.9V945.15H629V953.45H633.7V961.74H633.7V970.04H603.4V978.33H605.4V986.63H604.6V994.92H566V1003.22H560.3V1011.51H539.9V1019.81H520V1028.1H492.3Z" fill="#9597ca"/>
<path d="M492.3 712.4 V1028.1 H671.4" stroke="#111" stroke-width="0.9" fill="none"/>
<path d="M489.7 712.9H492.3M489.7 721.19H492.3M489.7 729.49H492.3M489.7 737.78H492.3M489.7 746.08H492.3M489.7 754.37H492.3M489.7 762.67H492.3M489.7 770.96H492.3M489.7 779.26H492.3M489.7 787.55H492.3M489.7 795.85H492.3M489.7 804.14H492.3M489.7 812.44H492.3M489.7 820.73H492.3M489.7 829.03H492.3M489.7 837.32H492.3M489.7 845.62H492.3M489.7 853.91H492.3M489.7 862.21H492.3M489.7 870.5H492.3M489.7 878.79H492.3M489.7 887.09H492.3M489.7 895.38H492.3M489.7 903.68H492.3M489.7 911.97H492.3M489.7 920.27H492.3M489.7 928.56H492.3M489.7 936.86H492.3M489.7 945.15H492.3M489.7 953.45H492.3M489.7 961.74H492.3M489.7 970.04H492.3M489.7 978.33H492.3M489.7 986.63H492.3M489.7 994.92H492.3M489.7 1003.22H492.3M489.7 1011.51H492.3M489.7 1019.81H492.3M489.7 1028.1H492.3M492.3 1028.1V1030.9M537.8 1028.1V1030.9M582.2 1028.1V1030.9M626.6 1028.1V1030.9M671 1028.1V1030.9" stroke="#111" stroke-width="0.9" fill="none"/>
<text x="492.8" y="1041.9" font-size="10.3" text-anchor="middle" fill="#111">500</text>
<text x="538.3" y="1041.9" font-size="10.3" text-anchor="middle" fill="#111">1,500</text>
<text x="582.5" y="1041.9" font-size="10.3" text-anchor="middle" fill="#111">2,500</text>
<text x="626.9" y="1041.9" font-size="10.3" text-anchor="middle" fill="#111">3,500</text>
<text x="670.6" y="1041.9" font-size="10.3" text-anchor="middle" fill="#111">4,500</text>
<text x="534.9" y="1057" font-size="10.3" text-anchor="start" fill="#111">TACO1 binding (A.U.)</text>
<text x="-0.3" y="972.6" font-size="19.5" text-anchor="start" fill="#000" font-weight="bold">e</text>
<path d="M30.1 978.5 V1029.3 H212.5" stroke="#7a7a7a" stroke-width="1.1" fill="none"/>
<path d="M27.5 978.5 H30.1" stroke="#555" stroke-width="0.9"/>
<text x="24.8" y="982" font-size="9.3" text-anchor="end" fill="#111">2</text>
<path d="M27.5 1003.9 H30.1" stroke="#555" stroke-width="0.9"/>
<text x="24.8" y="1007.4" font-size="9.3" text-anchor="end" fill="#111">1</text>
<path d="M27.5 1029.3 H30.1" stroke="#555" stroke-width="0.9"/>
<text x="24.8" y="1032.8" font-size="9.3" text-anchor="end" fill="#111">0</text>
<text transform="translate(12.6 1003.5) rotate(-90)" font-size="10.3" text-anchor="middle" fill="#111">Bits</text>
<path d="M58.43 1029.3 V1031.8" stroke="#777" stroke-width="0.9"/>
<text x="58.43" y="1042.8" font-size="10.3" text-anchor="middle" fill="#111">5</text>
<path d="M89.71 1029.3 V1031.8" stroke="#777" stroke-width="0.9"/>
<text x="89.71" y="1042.8" font-size="10.3" text-anchor="middle" fill="#111">10</text>
<path d="M121 1029.3 V1031.8" stroke="#777" stroke-width="0.9"/>
<text x="121" y="1042.8" font-size="10.3" text-anchor="middle" fill="#111">15</text>
<path d="M152.28 1029.3 V1031.8" stroke="#777" stroke-width="0.9"/>
<text x="152.28" y="1042.8" font-size="10.3" text-anchor="middle" fill="#111">20</text>
<path d="M183.57 1029.3 V1031.8" stroke="#777" stroke-width="0.9"/>
<text x="183.57" y="1042.8" font-size="10.3" text-anchor="middle" fill="#111">25</text>
<g font-weight="bold">
<text transform="translate(33.4 1029.2) scale(0.83 0.16)" font-size="10" text-anchor="middle" fill="#f0a92a">A</text>
<text transform="translate(39.66 1029) scale(0.59 0.75)" font-size="10" text-anchor="middle" fill="#2a8a4a">T</text>
<text transform="translate(39.66 1023.5) scale(0.35 0.96)" font-size="10" text-anchor="middle" fill="#d3232f">G</text>
<text transform="translate(45.91 1029) scale(0.98 1.21)" font-size="10" text-anchor="middle" fill="#2a8a4a">T</text>
<text transform="translate(45.91 1020.2) scale(0.83 2.61)" font-size="10" text-anchor="middle" fill="#2f3f9e">C</text>
<text transform="translate(52.17 1029) scale(0.83 0.99)" font-size="10" text-anchor="middle" fill="#2f3f9e">C</text>
<text transform="translate(52.17 1021.8) scale(0.29 0.73)" font-size="10" text-anchor="middle" fill="#f0a92a">A</text>
<text transform="translate(58.43 1029.2) scale(0.83 0.23)" font-size="10" text-anchor="middle" fill="#f0a92a">A</text>
<text transform="translate(58.43 1027.5) scale(0.77 0.82)" font-size="10" text-anchor="middle" fill="#d3232f">G</text>
<text transform="translate(58.43 1021.5) scale(0.98 0.58)" font-size="10" text-anchor="middle" fill="#2a8a4a">T</text>
<text transform="translate(64.69 1029) scale(0.25 1.03)" font-size="10" text-anchor="middle" fill="#f0a92a">A</text>
<text transform="translate(77.2 1029) scale(0.83 0.55)" font-size="10" text-anchor="middle" fill="#2f3f9e">C</text>
<text transform="translate(77.2 1025) scale(0.98 0.48)" font-size="10" text-anchor="middle" fill="#2a8a4a">T</text>
<text transform="translate(77.2 1021.5) scale(0.77 1.62)" font-size="10" text-anchor="middle" fill="#d3232f">G</text>
<text transform="translate(83.46 1029) scale(0.77 0.21)" font-size="10" text-anchor="middle" fill="#d3232f">G</text>
<text transform="translate(83.46 1027.5) scale(0.98 0.48)" font-size="10" text-anchor="middle" fill="#2a8a4a">T</text>
<text transform="translate(89.71 1029) scale(0.77 0.93)" font-size="10" text-anchor="middle" fill="#d3232f">G</text>
<text transform="translate(89.71 1022.2) scale(0.25 0.99)" font-size="10" text-anchor="middle" fill="#f0a92a">A</text>
<text transform="translate(95.97 1029) scale(0.83 1.03)" font-size="10" text-anchor="middle" fill="#f0a92a">A</text>
<text transform="translate(95.97 1021.5) scale(0.77 2.19)" font-size="10" text-anchor="middle" fill="#d3232f">G</text>
<text transform="translate(102.23 1029) scale(0.83 0.27)" font-size="10" text-anchor="middle" fill="#f0a92a">A</text>
<text transform="translate(102.23 1027) scale(0.98 0.48)" font-size="10" text-anchor="middle" fill="#2a8a4a">T</text>
<text transform="translate(102.23 1023.5) scale(0.77 0.99)" font-size="10" text-anchor="middle" fill="#d3232f">G</text>
<text transform="translate(114.74 1029) scale(0.77 1.56)" font-size="10" text-anchor="middle" fill="#d3232f">G</text>
<text transform="translate(114.74 1017.6) scale(0.83 1.93)" font-size="10" text-anchor="middle" fill="#f0a92a">A</text>
<text transform="translate(121 1029) scale(0.83 1.56)" font-size="10" text-anchor="middle" fill="#2f3f9e">C</text>
<text transform="translate(121 1017.6) scale(0.98 1.89)" font-size="10" text-anchor="middle" fill="#2a8a4a">T</text>
<text transform="translate(133.51 1029) scale(0.42 0.82)" font-size="10" text-anchor="middle" fill="#f0a92a">A</text>
<text transform="translate(133.51 1023) scale(0.27 0.48)" font-size="10" text-anchor="middle" fill="#d3232f">G</text>
<text transform="translate(133.51 1019.5) scale(0.29 0.48)" font-size="10" text-anchor="middle" fill="#f0a92a">A</text>
<text transform="translate(139.77 1029) scale(0.83 0.48)" font-size="10" text-anchor="middle" fill="#f0a92a">A</text>
<text transform="translate(139.77 1025.5) scale(0.98 0.45)" font-size="10" text-anchor="middle" fill="#2a8a4a">T</text>
<text transform="translate(139.77 1022.2) scale(0.77 0.85)" font-size="10" text-anchor="middle" fill="#d3232f">G</text>
<text transform="translate(146.03 1029) scale(0.83 0.27)" font-size="10" text-anchor="middle" fill="#f0a92a">A</text>
<text transform="translate(146.03 1027) scale(0.98 0.21)" font-size="10" text-anchor="middle" fill="#2a8a4a">T</text>
<text transform="translate(146.03 1025.5) scale(0.77 0.66)" font-size="10" text-anchor="middle" fill="#d3232f">G</text>
<text transform="translate(146.03 1020.7) scale(0.83 1.48)" font-size="10" text-anchor="middle" fill="#f0a92a">A</text>
<text transform="translate(152.28 1029) scale(0.83 0.48)" font-size="10" text-anchor="middle" fill="#f0a92a">A</text>
<text transform="translate(152.28 1025.5) scale(0.98 0.45)" font-size="10" text-anchor="middle" fill="#2a8a4a">T</text>
<text transform="translate(152.28 1022.2) scale(0.77 1.3)" font-size="10" text-anchor="middle" fill="#d3232f">G</text>
<text transform="translate(158.54 1029) scale(0.83 1.14)" font-size="10" text-anchor="middle" fill="#2f3f9e">C</text>
<text transform="translate(158.54 1020.7) scale(0.83 0.74)" font-size="10" text-anchor="middle" fill="#f0a92a">A</text>
<text transform="translate(158.54 1015.3) scale(0.77 0.95)" font-size="10" text-anchor="middle" fill="#d3232f">G</text>
<text transform="translate(164.8 1029) scale(0.98 0.82)" font-size="10" text-anchor="middle" fill="#2a8a4a">T</text>
<text transform="translate(171.05 1029) scale(0.83 1.78)" font-size="10" text-anchor="middle" fill="#f0a92a">A</text>
<text transform="translate(171.05 1016) scale(0.77 1.71)" font-size="10" text-anchor="middle" fill="#d3232f">G</text>
<text transform="translate(177.31 1029) scale(0.98 0.27)" font-size="10" text-anchor="middle" fill="#2a8a4a">T</text>
<text transform="translate(177.31 1027) scale(0.83 1.4)" font-size="10" text-anchor="middle" fill="#2f3f9e">C</text>
<text transform="translate(177.31 1016.8) scale(0.77 1.82)" font-size="10" text-anchor="middle" fill="#d3232f">G</text>
<text transform="translate(183.57 1029) scale(0.83 0.48)" font-size="10" text-anchor="middle" fill="#2f3f9e">C</text>
<text transform="translate(183.57 1025.5) scale(0.98 0.66)" font-size="10" text-anchor="middle" fill="#2a8a4a">T</text>
<text transform="translate(183.57 1020.7) scale(0.83 1.48)" font-size="10" text-anchor="middle" fill="#f0a92a">A</text>
<text transform="translate(189.82 1029) scale(0.77 0.48)" font-size="10" text-anchor="middle" fill="#d3232f">G</text>
<text transform="translate(189.82 1025.5) scale(0.98 0.56)" font-size="10" text-anchor="middle" fill="#2a8a4a">T</text>
<text transform="translate(189.82 1021.4) scale(0.77 1.26)" font-size="10" text-anchor="middle" fill="#d3232f">G</text>
<text transform="translate(196.08 1029) scale(0.83 0.48)" font-size="10" text-anchor="middle" fill="#f0a92a">A</text>
<text transform="translate(196.08 1025.5) scale(0.98 0.56)" font-size="10" text-anchor="middle" fill="#2a8a4a">T</text>
<text transform="translate(196.08 1021.4) scale(0.83 0.84)" font-size="10" text-anchor="middle" fill="#2f3f9e">C</text>
<text transform="translate(202.34 1029) scale(0.83 0.73)" font-size="10" text-anchor="middle" fill="#2f3f9e">C</text>
<text transform="translate(202.34 1023.7) scale(0.83 1.93)" font-size="10" text-anchor="middle" fill="#f0a92a">A</text>
<text transform="translate(208.6 1029) scale(0.83 0.21)" font-size="10" text-anchor="middle" fill="#f0a92a">A</text>
</g>
</svg>
</body></html>
